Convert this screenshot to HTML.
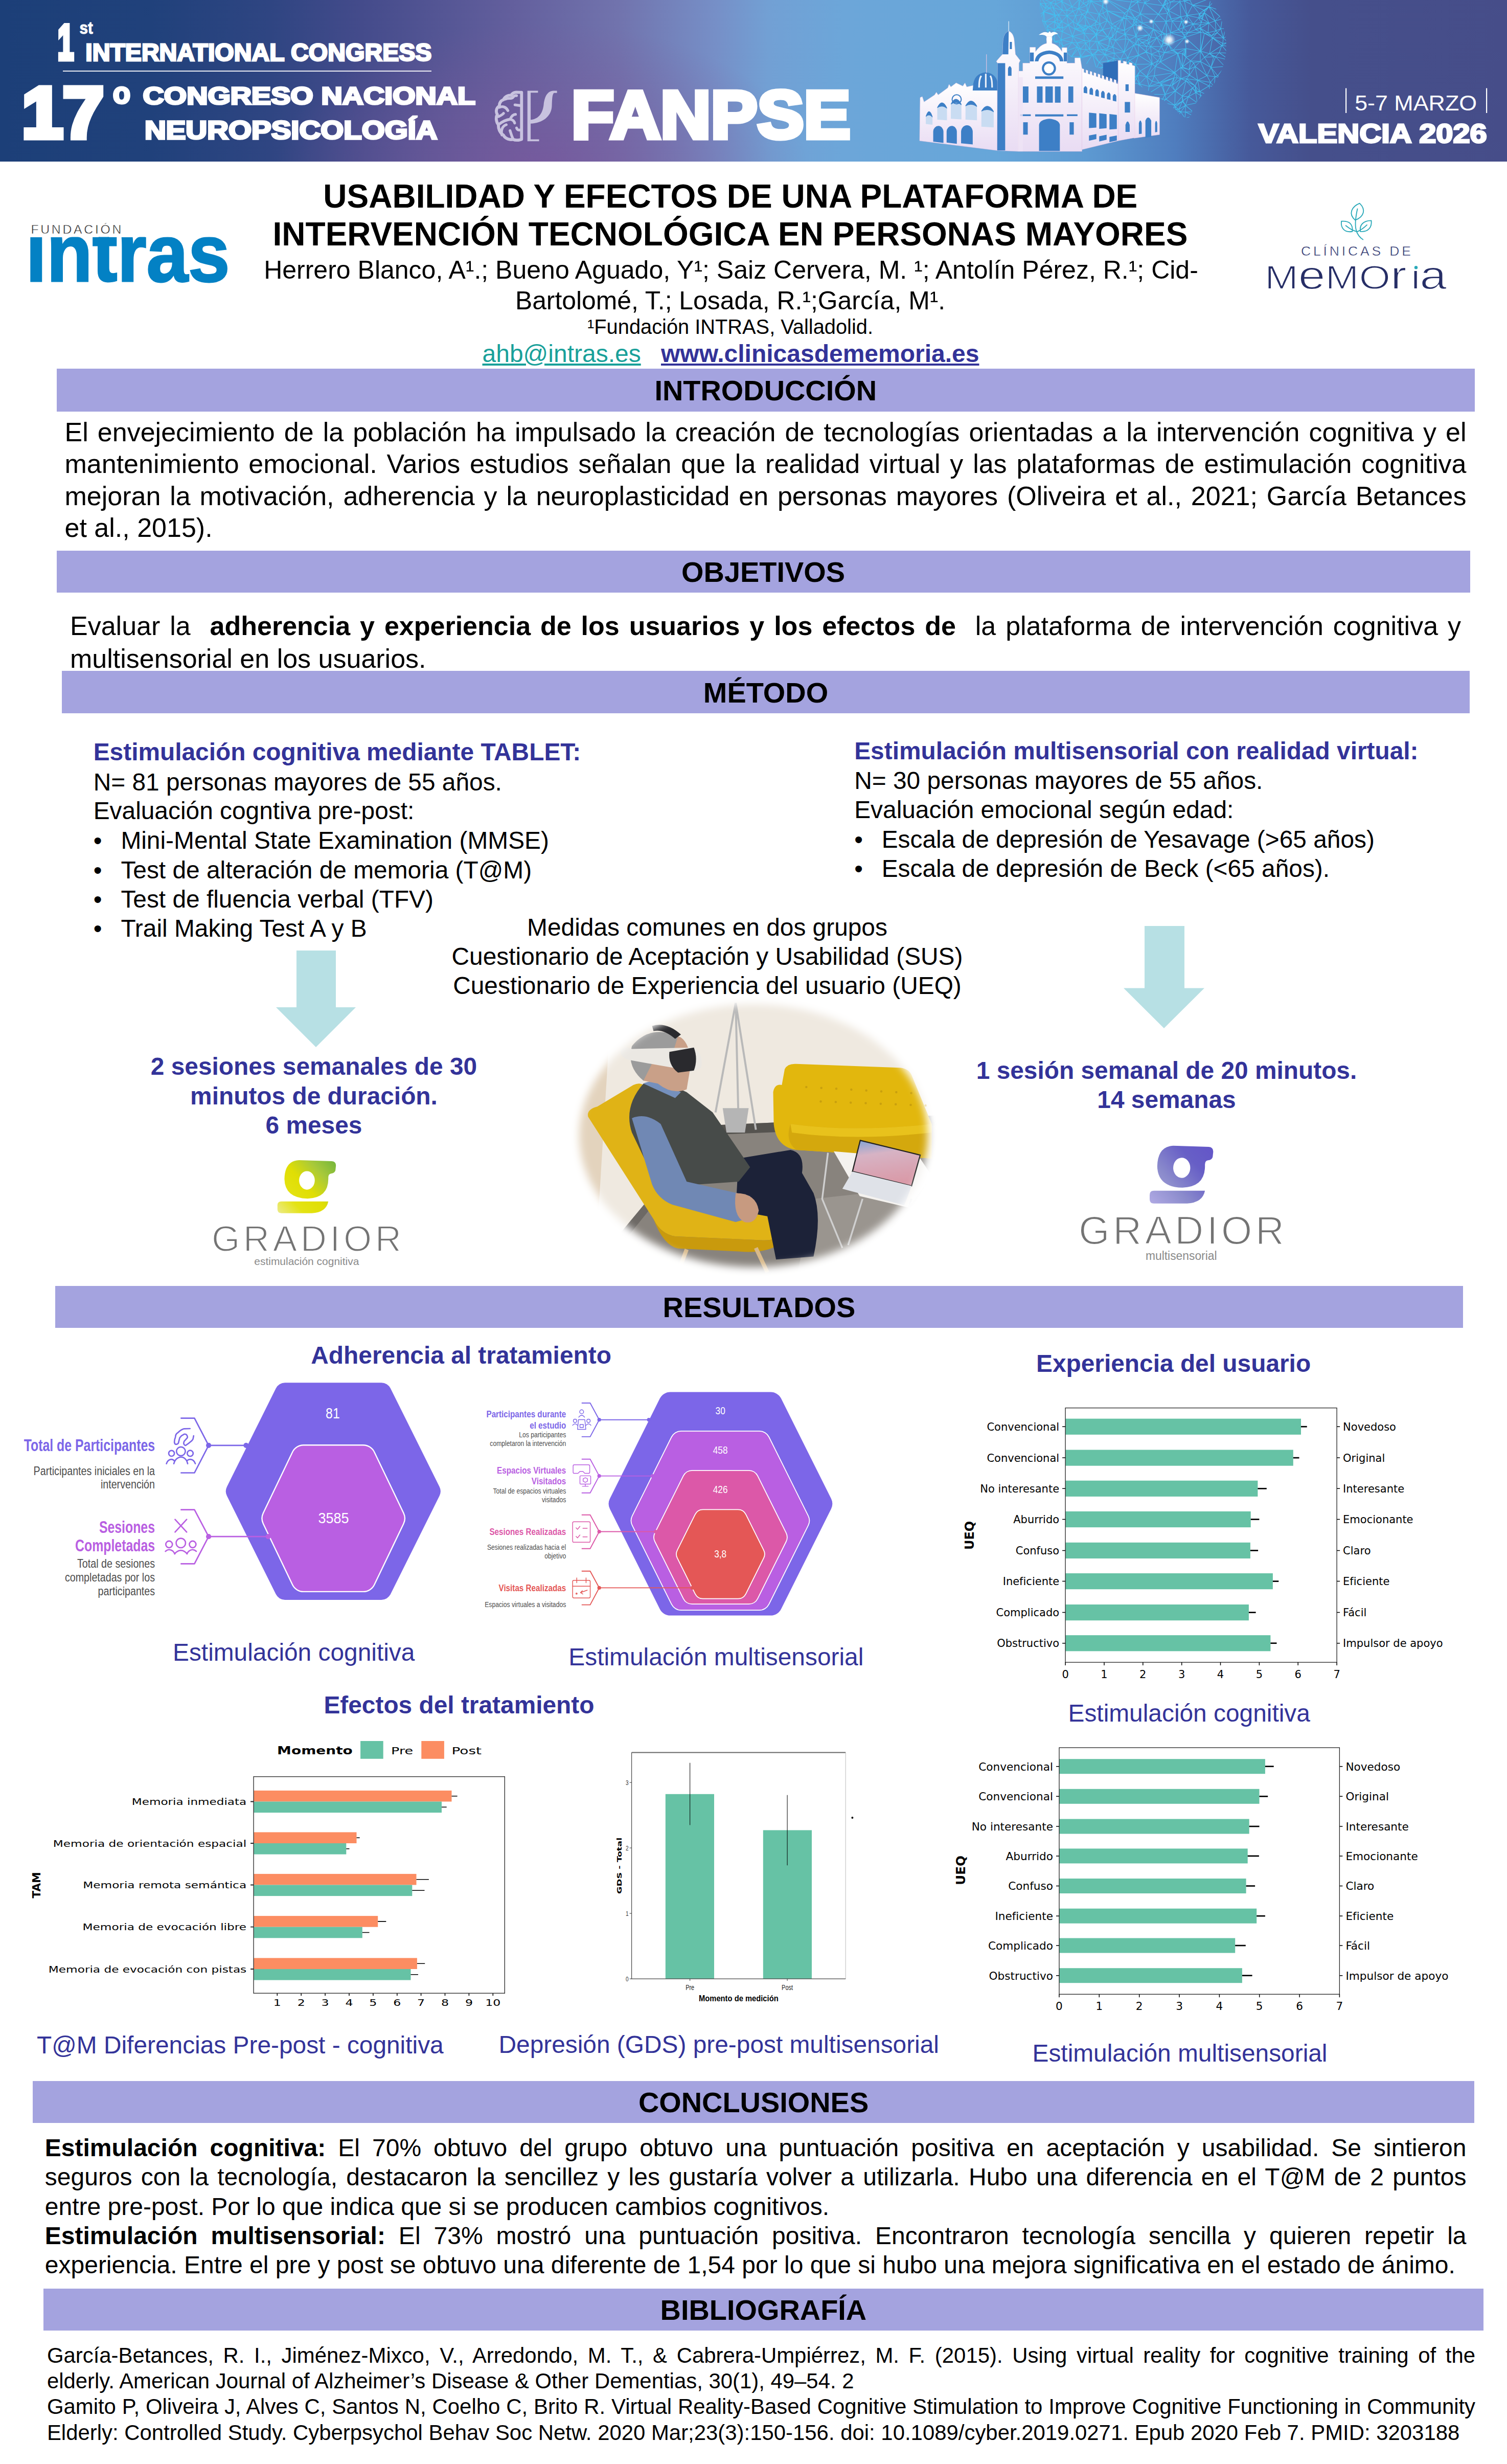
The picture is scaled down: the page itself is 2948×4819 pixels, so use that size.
<!DOCTYPE html>
<html lang="es"><head><meta charset="utf-8"><title>Usabilidad y efectos de una plataforma de intervención tecnológica en personas mayores</title>
<style>
html,body{margin:0;padding:0;background:#fff;}
body{width:2948px;height:4819px;position:relative;overflow:hidden;font-family:"Liberation Sans",sans-serif;}
.t{position:absolute;margin:0;padding:0;}
.r{position:absolute;}
svg{position:absolute;overflow:visible;}
svg text{font-family:"DejaVu Sans",sans-serif;}
a{color:inherit;}
</style></head><body>
<svg id="banner" width="2948" height="316" viewBox="0 0 2948 316" style="left:0;top:0;overflow:hidden">
<defs>
<linearGradient id="bg" x1="0" x2="1" y1="0" y2="0">
<stop offset="0" stop-color="#1c3f78"/><stop offset="0.10" stop-color="#20417b"/><stop offset="0.18" stop-color="#2f4582"/><stop offset="0.24" stop-color="#444b8b"/>
<stop offset="0.34" stop-color="#635f9d"/><stop offset="0.41" stop-color="#7173ad"/><stop offset="0.475" stop-color="#768fc7"/>
<stop offset="0.51" stop-color="#72a0d4"/><stop offset="0.56" stop-color="#6ca6d9"/><stop offset="0.66" stop-color="#66a6d9"/>
<stop offset="0.72" stop-color="#5d9ad2"/><stop offset="0.78" stop-color="#4f7dbe"/><stop offset="0.83" stop-color="#46599a"/>
<stop offset="0.87" stop-color="#454f8b"/><stop offset="1" stop-color="#464d89"/></linearGradient>
<radialGradient id="glow" cx="1060" cy="330" r="520" gradientUnits="userSpaceOnUse" gradientTransform="translate(0 330) scale(1 0.55) translate(0 -330)">
<stop offset="0" stop-color="#7a569c" stop-opacity="0.75"/><stop offset="0.5" stop-color="#7a5a9c" stop-opacity="0.4"/><stop offset="1" stop-color="#7a5a9c" stop-opacity="0"/></radialGradient>
<radialGradient id="star"><stop offset="0" stop-color="#fff" stop-opacity="1"/><stop offset="0.35" stop-color="#fff" stop-opacity="0.8"/><stop offset="1" stop-color="#bfe6ff" stop-opacity="0"/></radialGradient>
<linearGradient id="wall" x1="0" x2="0" y1="0" y2="1"><stop offset="0" stop-color="#ffffff"/><stop offset="1" stop-color="#e9dcf3"/></linearGradient>
<clipPath id="meshclip"><path d="M2035 0 C2030 40 2050 70 2075 95 C2095 120 2150 130 2190 150 C2230 165 2270 190 2300 215 C2310 228 2325 236 2330 225 C2335 205 2345 190 2370 170 C2395 140 2405 100 2395 60 C2390 30 2375 10 2365 0 Z"/></clipPath>
</defs>
<rect width="2948" height="316" fill="url(#bg)"/>
<rect width="2948" height="316" fill="url(#glow)"/>
<g clip-path="url(#meshclip)"><path d="M2150 28L2152 47M2150 28L2128 23M2150 28L2134 2M2150 28L2157 13M2150 28L2145 42M2150 28L2166 40M2150 28L2158 26M2280 8L2284 7M2280 8L2277 10M2280 8L2286 21M2280 8L2276 13M2280 8L2281 -4M2234 83L2226 76M2234 83L2243 91M2234 83L2247 85M2234 83L2227 88M2234 83L2245 79M2043 119L2052 105M2043 119L2062 133M2043 119L2040 111M2043 119L2059 117M2043 119L2038 126M2043 119L2046 141M2035 101L2029 108M2035 101L2052 105M2035 101L2027 107M2035 101L2044 90M2035 101L2040 111M2035 101L2032 95M2048 13L2045 7M2048 13L2054 16M2048 13L2056 5M2048 13L2045 16M2190 201L2194 212M2190 201L2184 197M2190 201L2190 199M2190 201L2182 206M2190 201L2208 204M2070 47L2068 38M2070 47L2077 42M2070 47L2069 53M2070 47L2073 48M2070 47L2063 42M2271 232L2270 220M2271 232L2253 221M2271 232L2244 231M2271 232L2272 223M2271 232L2286 232M2271 232L2276 222M2271 232L2276 241M2251 91L2252 106M2251 91L2243 91M2251 91L2263 74M2251 91L2247 85M2251 91L2272 91M2251 91L2266 100M2251 91L2242 101M2411 2L2412 20M2411 2L2397 -4M2411 2L2416 16M2411 2L2398 17M2363 64L2370 70M2363 64L2365 45M2363 64L2356 65M2363 64L2379 60M2363 64L2348 55M2078 20L2087 20M2078 20L2071 29M2078 20L2087 31M2078 20L2065 8M2078 20L2077 3M2078 20L2060 15M2143 198L2153 194M2143 198L2146 204M2143 198L2139 178M2143 198L2124 188M2143 198L2119 220M2092 138L2061 152M2092 138L2062 133M2092 138L2100 119M2092 138L2104 138M2092 138L2077 124M2092 138L2085 167M2092 138L2100 145M2276 85L2286 87M2276 85L2275 82M2276 85L2272 91M2239 6L2266 28M2239 6L2231 27M2239 6L2237 -3M2239 6L2247 -7M2239 6L2260 -7M2239 6L2275 11M2239 6L2225 4M2044 43L2049 51M2044 43L2064 31M2044 43L2040 41M2044 43L2042 23M2044 43L2044 59M2044 43L2063 42M2292 99L2295 98M2292 99L2286 87M2292 99L2304 104M2292 99L2278 103M2146 139L2174 161M2146 139L2168 134M2146 139L2160 130M2146 139L2122 143M2146 139L2145 134M2146 139L2126 154M2146 139L2133 173M2146 139L2159 170M2201 66L2202 76M2201 66L2200 59M2201 66L2200 67M2201 66L2209 78M2201 66L2216 50M2201 66L2222 71M2338 168L2347 179M2338 168L2320 158M2338 168L2321 154M2338 168L2339 178M2338 168L2341 178M2338 168L2343 157M2338 168L2333 172M2118 136L2113 114M2118 136L2111 122M2118 136L2116 140M2118 136L2137 107M2118 136L2122 143M2118 136L2145 134M2118 136L2110 139M2230 213L2240 215M2230 213L2233 189M2230 213L2242 190M2230 213L2222 203M2230 213L2228 226M2230 213L2225 218M2312 63L2324 64M2312 63L2315 54M2312 63L2317 68M2312 63L2290 64M2312 63L2305 58M2312 63L2318 73M2412 20L2414 28M2412 20L2407 22M2412 20L2416 16M2412 20L2398 17M2187 183L2174 161M2187 183L2184 197M2187 183L2164 185M2187 183L2195 175M2187 183L2195 187M2081 115L2089 111M2081 115L2069 103M2081 115L2083 104M2081 115L2100 119M2081 115L2076 124M2081 115L2077 124M2081 115L2064 115M2036 160L2044 169M2036 160L2049 161M2036 160L2033 171M2036 160L2029 148M2036 160L2025 154M2036 160L2046 141M2326 136L2310 132M2326 136L2329 119M2326 136L2313 131M2326 136L2327 147M2326 136L2338 130M2326 136L2335 123M2370 70L2381 64M2370 70L2356 65M2370 70L2379 60M2370 70L2372 74M2298 142L2310 132M2298 142L2270 121M2298 142L2303 152M2298 142L2310 154M2298 142L2304 104M2298 142L2268 162M2298 142L2258 148M2298 142L2260 130M2298 142L2297 152M2252 106L2265 119M2252 106L2242 102M2252 106L2254 125M2252 106L2266 100M2252 106L2270 111M2252 106L2242 101M2356 231L2360 243M2356 231L2373 237M2356 231L2348 237M2356 231L2356 223M2356 231L2363 244M2356 231L2348 217M2210 159L2212 164M2210 159L2221 151M2210 159L2203 131M2210 159L2219 162M2210 159L2188 139M2210 159L2190 158M2210 159L2223 154M2210 159L2195 175M2044 169L2049 161M2044 169L2048 179M2044 169L2033 171M2279 243L2231 240M2279 243L2295 241M2279 243L2313 244M2279 243L2178 243M2279 243L2276 241M2279 243L2286 240M2349 63L2348 56M2349 63L2324 64M2349 63L2348 100M2349 63L2356 65M2349 63L2339 58M2349 63L2318 73M2174 161L2168 134M2174 161L2188 139M2174 161L2190 158M2174 161L2164 185M2174 161L2195 175M2174 161L2159 170M2029 108L2027 107M2029 108L2021 115M2029 108L2040 111M2029 108L2038 126M2087 20L2087 31M2087 20L2097 13M2087 20L2077 3M2087 20L2099 22M2044 186L2036 189M2044 186L2048 179M2044 186L2033 171M2044 186L2043 189M2072 53L2079 55M2072 53L2071 54M2072 53L2069 53M2072 53L2073 48M2176 212L2164 215M2176 212L2177 226M2176 212L2169 224M2176 212L2182 215M2176 212L2182 206M2176 212L2165 198M2052 105L2056 92M2052 105L2044 90M2052 105L2040 111M2052 105L2059 117M2052 105L2057 103M2240 215L2231 228M2240 215L2242 190M2240 215L2241 226M2240 215L2248 216M2240 215L2228 226M2348 210L2334 219M2348 210L2342 201M2348 210L2350 208M2348 210L2348 217M2131 96L2124 84M2131 96L2124 97M2131 96L2137 107M2131 96L2144 81M2131 96L2132 80M2131 96L2148 98M2164 215L2157 202M2164 215L2146 204M2164 215L2163 200M2164 215L2169 224M2164 215L2143 233M2164 215L2165 198M2403 28L2414 28M2403 28L2401 24M2403 28L2407 22M2403 28L2406 43M2403 28L2391 37M2403 28L2400 25M2403 28L2396 26M2090 49L2099 42M2090 49L2098 71M2090 49L2079 55M2090 49L2087 31M2090 49L2077 42M2090 49L2078 62M2090 49L2103 57M2113 114L2111 122M2113 114L2137 107M2113 114L2100 119M2113 114L2114 111M2256 57L2231 51M2256 57L2263 74M2256 57L2251 73M2256 57L2271 68M2256 57L2256 42M2256 57L2248 68M2256 57L2273 63M2256 57L2235 45M2022 97L2020 87M2022 97L2027 107M2022 97L2021 115M2022 97L2032 95M2168 134L2160 130M2168 134L2178 130M2168 134L2168 119M2168 134L2188 139M2401 166L2412 158M2401 166L2408 156M2401 166L2391 172M2401 166L2397 174M2401 166L2404 154M2401 166L2404 170M2401 166L2387 152M2226 147L2243 150M2226 147L2221 151M2226 147L2229 164M2226 147L2230 139M2226 147L2223 154M2290 4L2309 -5M2290 4L2284 7M2290 4L2308 3M2290 4L2286 21M2290 4L2281 -4M2380 189L2370 193M2380 189L2384 189M2380 189L2382 196M2380 189L2375 169M2380 189L2391 172M2380 189L2374 197M2380 189L2369 189M2370 193L2361 196M2370 193L2374 197M2370 193L2369 189M2177 92L2182 79M2177 92L2169 90M2177 92L2164 99M2177 92L2171 76M2177 92L2180 104M2177 92L2199 102M2061 152L2054 158M2061 152L2062 133M2061 152L2082 173M2061 152L2085 167M2061 152L2056 149M2061 152L2058 153M2045 7L2056 5M2045 7L2037 -4M2045 7L2034 6M2045 7L2045 16M2104 31L2108 48M2104 31L2099 42M2104 31L2087 31M2104 31L2099 22M2104 31L2117 28M2104 31L2110 17M2156 3L2162 -3M2156 3L2159 -5M2156 3L2134 2M2156 3L2157 13M2156 3L2143 -4M2020 29L2020 87M2020 29L2022 57M2020 29L2021 181M2020 29L2034 6M2020 29L2035 36M2020 29L2034 28M2020 29L2021 81M2020 29L2031 1M2020 29L2028 55M2061 83L2056 92M2061 83L2073 82M2061 83L2071 100M2061 83L2046 79M2061 83L2063 81M2030 213L2038 203M2030 213L2022 220M2030 213L2039 217M2030 213L2023 205M2266 28L2231 27M2266 28L2284 26M2266 28L2281 42M2266 28L2276 13M2266 28L2275 11M2266 28L2256 42M2121 79L2124 84M2121 79L2121 65M2121 79L2098 71M2121 79L2132 80M2121 79L2107 84M2166 21L2162 -3M2166 21L2196 37M2166 21L2200 26M2166 21L2157 13M2166 21L2175 47M2166 21L2166 40M2166 21L2197 35M2166 21L2158 26M2360 243L2345 241M2360 243L2348 237M2360 243L2313 244M2360 243L2363 244M2206 113L2201 126M2206 113L2210 118M2206 113L2218 88M2206 113L2227 108M2206 113L2192 116M2206 113L2199 102M2054 16L2056 5M2054 16L2042 23M2054 16L2064 29M2054 16L2045 16M2054 16L2060 15M2157 58L2152 47M2157 58L2156 59M2157 58L2147 60M2157 58L2175 54M2157 58L2166 40M2157 58L2167 72M2352 31L2356 25M2352 31L2350 31M2352 31L2352 37M2352 31L2348 33M2029 233L2046 241M2029 233L2049 229M2029 233L2022 220M2029 233L2039 217M2231 27L2220 35M2231 27L2224 38M2231 27L2209 17M2231 27L2225 4M2231 27L2256 42M2231 27L2235 45M2237 -3L2229 -5M2237 -3L2247 -7M2237 -3L2225 4M2231 240L2231 228M2231 240L2244 231M2231 240L2178 243M2231 240L2217 234M2231 240L2276 241M2365 168L2347 179M2365 168L2368 161M2365 168L2375 169M2365 168L2343 157M2365 168L2369 189M2124 84L2124 97M2124 84L2132 80M2124 84L2114 96M2124 84L2107 84M2087 187L2091 191M2087 187L2078 201M2087 187L2082 173M2087 187L2099 182M2087 187L2087 190M2233 189L2242 190M2233 189L2245 184M2233 189L2225 167M2233 189L2218 203M2233 189L2222 203M2233 189L2229 164M2233 189L2210 199M2152 47L2142 49M2152 47L2147 60M2152 47L2145 42M2152 47L2166 40M2345 241L2335 238M2345 241L2348 237M2345 241L2313 244M2345 241L2342 237M2361 196L2374 197M2361 196L2349 187M2361 196L2369 189M2361 196L2359 197M2347 179L2339 181M2347 179L2341 178M2347 179L2349 187M2347 179L2343 157M2347 179L2369 189M2111 122L2100 119M2111 122L2104 138M2111 122L2110 139M2162 -3L2159 -5M2162 -3L2216 -9M2162 -3L2207 20M2162 -3L2214 -4M2162 -3L2200 26M2162 -3L2157 13M2162 -3L2213 4M2031 61L2027 75M2031 61L2022 57M2031 61L2044 59M2031 61L2036 65M2031 61L2025 73M2031 61L2028 55M2124 167L2109 184M2124 167L2125 173M2124 167L2099 182M2124 167L2126 154M2124 167L2105 149M2124 167L2133 173M2403 104L2409 91M2403 104L2385 103M2403 104L2390 89M2403 104L2406 118M2395 242L2411 229M2395 242L2383 244M2395 242L2397 239M2395 242L2386 231M2402 83L2409 91M2402 83L2408 69M2402 83L2393 74M2402 83L2392 85M2402 83L2390 89M2108 48L2099 42M2108 48L2122 32M2108 48L2114 53M2108 48L2119 53M2108 48L2103 57M2108 48L2117 28M2108 48L2124 50M2099 42L2087 31M2099 42L2103 57M2270 220L2253 221M2270 220L2254 218M2270 220L2272 223M2270 220L2276 222M2270 220L2252 215M2270 220L2274 200M2356 112L2348 100M2356 112L2348 120M2356 112L2374 111M2356 112L2349 100M2356 112L2366 105M2356 112L2369 132M2281 194L2274 194M2281 194L2279 185M2281 194L2298 206M2281 194L2299 178M2281 194L2274 200M2054 158L2049 161M2054 158L2082 173M2054 158L2048 179M2054 158L2056 149M2054 158L2058 153M2384 189L2382 196M2384 189L2391 172M2384 189L2402 206M2384 189L2395 177M2320 112L2329 119M2320 112L2313 131M2320 112L2348 100M2320 112L2313 105M2320 112L2320 95M2320 112L2318 109M2091 191L2078 201M2091 191L2113 219M2091 191L2103 221M2091 191L2109 184M2091 191L2099 182M2091 191L2081 215M2091 191L2087 190M2153 194L2157 202M2153 194L2146 204M2153 194L2139 178M2153 194L2163 200M2153 194L2164 185M2153 194L2154 181M2409 91L2420 140M2409 91L2411 56M2409 91L2408 69M2409 91L2390 89M2409 91L2416 137M2409 91L2406 118M2181 231L2188 224M2181 231L2211 230M2181 231L2169 234M2181 231L2177 226M2181 231L2178 243M2310 33L2308 3M2310 33L2293 41M2310 33L2286 21M2310 33L2315 41M2310 33L2291 37M2310 33L2311 42M2310 33L2322 30M2071 29L2064 31M2071 29L2087 31M2071 29L2064 29M2071 29L2068 38M2071 29L2077 42M2071 29L2060 15M2382 196L2374 197M2382 196L2402 206M2382 196L2379 215M2078 201L2082 173M2078 201L2062 203M2078 201L2081 215M2078 201L2087 190M2412 158L2408 156M2412 158L2416 202M2412 158L2420 140M2412 158L2404 170M2160 130L2150 122M2160 130L2145 134M2160 130L2168 119M2072 -6L2037 -4M2072 -6L2077 3M2072 -6L2088 -9M2072 -6L2078 -3M2072 -6L2065 -1M2408 156L2420 140M2408 156L2404 154M2408 156L2403 147M2408 156L2409 139M2231 228L2244 231M2231 228L2241 226M2231 228L2228 226M2231 228L2217 234M2194 212L2211 230M2194 212L2189 222M2194 212L2182 215M2194 212L2182 206M2194 212L2208 204M2350 44L2365 45M2350 44L2348 49M2350 44L2334 47M2350 44L2352 37M2350 44L2345 35M2121 65L2119 61M2121 65L2098 71M2121 65L2128 53M2121 65L2132 80M2121 65L2103 57M2121 65L2144 67M2116 140L2122 143M2116 140L2110 139M2116 140L2105 149M2124 97L2137 107M2124 97L2114 111M2124 97L2114 96M2072 222L2080 224M2072 222L2053 208M2072 222L2062 203M2072 222L2081 215M2072 222L2074 229M2072 222L2063 227M2162 107L2150 122M2162 107L2179 114M2162 107L2164 99M2162 107L2180 104M2162 107L2141 107M2162 107L2155 97M2162 107L2168 119M2162 107L2148 98M2253 221L2244 231M2253 221L2241 226M2253 221L2254 218M2253 221L2248 216M2188 224L2211 230M2188 224L2189 222M2188 224L2177 226M2188 224L2182 215M2221 126L2210 118M2221 126L2221 126M2221 126L2227 108M2221 126L2203 131M2229 -5L2216 -9M2229 -5L2247 -7M2229 -5L2224 0M2229 -5L2225 4M2196 37L2200 59M2196 37L2175 47M2196 37L2188 56M2196 37L2203 36M2196 37L2197 35M2196 37L2182 51M2022 194L2036 189M2022 194L2038 203M2022 194L2021 181M2022 194L2036 189M2022 194L2022 183M2022 194L2022 220M2022 194L2023 205M2089 111L2085 100M2089 111L2096 111M2089 111L2083 104M2089 111L2100 119M2310 132L2313 131M2310 132L2310 154M2310 132L2327 147M2310 132L2304 104M2150 122L2137 107M2150 122L2141 107M2150 122L2145 134M2150 122L2168 119M2242 190L2245 184M2242 190L2274 194M2242 190L2248 216M2242 190L2252 215M2242 190L2274 200M2062 133L2076 124M2062 133L2077 124M2062 133L2059 117M2062 133L2056 149M2062 133L2066 125M2062 133L2046 141M2119 61L2120 58M2119 61L2116 56M2119 61L2128 53M2119 61L2103 57M2329 119L2313 131M2329 119L2348 100M2329 119L2348 120M2329 119L2335 123M2245 184L2248 169M2245 184L2274 194M2245 184L2229 164M2245 184L2279 185M2245 184L2272 167M2385 103L2378 111M2385 103L2366 105M2385 103L2390 89M2385 103L2406 118M2265 119L2270 121M2265 119L2254 125M2265 119L2260 130M2265 119L2270 111M2225 167L2212 164M2225 167L2229 164M2225 167L2219 162M2225 167L2210 199M2201 126L2210 118M2201 126L2186 124M2201 126L2203 131M2201 126L2192 116M2201 126L2188 139M2211 230L2189 222M2211 230L2178 243M2211 230L2217 234M2211 230L2221 225M2211 230L2208 204M2300 214L2306 214M2300 214L2310 219M2300 214L2292 218M2300 214L2299 209M2397 56L2411 56M2397 56L2409 53M2397 56L2408 69M2397 56L2393 74M2397 56L2388 56M2397 56L2391 37M2397 56L2406 45M2244 231L2241 226M2244 231L2276 241M2356 25L2377 41M2356 25L2356 21M2356 25L2365 45M2356 25L2350 31M2356 25L2352 37M2356 25L2355 20M2356 25L2346 27M2356 25L2365 13M2069 103L2083 104M2069 103L2056 92M2069 103L2064 115M2069 103L2071 100M2069 103L2057 103M2049 51L2062 58M2049 51L2050 58M2049 51L2044 59M2049 51L2063 42M2049 161L2048 179M2049 161L2056 149M2049 161L2046 141M2334 219L2342 201M2334 219L2319 219M2334 219L2319 206M2334 219L2335 227M2334 219L2348 217M2082 173L2048 179M2082 173L2062 203M2082 173L2099 182M2082 173L2085 167M2284 26L2286 21M2284 26L2281 42M2284 26L2291 37M2284 26L2276 13M2373 237L2383 244M2373 237L2379 215M2373 237L2373 242M2373 237L2356 223M2373 237L2366 244M2373 237L2363 244M2373 237L2386 231M2108 233L2118 236M2108 233L2104 231M2108 233L2113 225M2108 233L2105 238M2179 114L2177 119M2179 114L2186 124M2179 114L2180 104M2179 114L2192 116M2179 114L2168 119M2416 202L2411 229M2416 202L2420 140M2416 202L2402 206M2416 202L2404 170M2416 202L2395 177M2085 100L2096 111M2085 100L2083 104M2085 100L2079 90M2085 100L2097 83M2085 100L2107 92M2085 100L2071 100M2226 76L2227 88M2226 76L2222 86M2226 76L2222 71M2226 76L2245 79M2226 76L2248 68M2098 71L2076 78M2098 71L2097 83M2098 71L2107 84M2098 71L2078 62M2098 71L2103 57M2309 -5L2308 3M2309 -5L2255 -10M2309 -5L2319 -2M2309 -5L2317 2M2309 -5L2281 -4M2309 -5L2372 -6M2242 102L2254 125M2242 102L2227 108M2242 102L2242 101M2027 75L2044 90M2027 75L2036 65M2027 75L2025 73M2027 75L2046 79M2027 75L2021 81M2027 75L2032 95M2270 121L2304 104M2270 121L2260 130M2270 121L2270 111M2270 121L2278 103M2046 241L2049 229M2046 241L2062 243M2335 238L2316 239M2335 238L2313 244M2335 238L2342 237M2335 238L2335 227M2335 238L2318 231M2062 58L2050 58M2062 58L2076 78M2062 58L2071 54M2062 58L2078 62M2062 58L2069 53M2062 58L2063 81M2062 58L2063 42M2036 189L2033 171M2036 189L2036 189M2036 189L2022 183M2036 189L2043 189M2128 23L2127 23M2128 23L2122 32M2128 23L2134 2M2128 23L2126 11M2128 23L2145 42M2189 222L2182 215M2348 56L2356 65M2348 56L2339 58M2348 56L2348 55M2080 224L2081 215M2080 224L2084 229M2080 224L2074 229M2248 169L2243 150M2248 169L2229 164M2248 169L2268 162M2248 169L2254 159M2248 169L2272 167M2056 5L2037 -4M2056 5L2065 8M2056 5L2065 -1M2056 5L2060 15M2295 98L2320 95M2295 98L2286 87M2295 98L2304 104M2295 98L2318 73M2049 229L2062 243M2049 229L2039 217M2049 229L2051 222M2049 229L2063 227M2274 194L2279 185M2274 194L2274 200M2053 208L2047 210M2053 208L2054 205M2053 208L2062 203M2053 208L2061 203M2053 208L2051 222M2053 208L2063 227M2053 208L2046 211M2047 210L2054 205M2047 210L2038 203M2047 210L2046 211M2202 76L2182 79M2202 76L2200 67M2202 76L2209 78M2202 76L2199 102M2241 226L2248 216M2127 23L2122 32M2127 23L2126 11M2127 23L2117 28M2127 23L2110 17M2231 51L2222 42M2231 51L2223 49M2231 51L2222 71M2231 51L2248 68M2231 51L2235 45M2064 31L2042 23M2064 31L2064 29M2064 31L2068 38M2064 31L2063 42M2040 41L2042 23M2040 41L2044 59M2040 41L2035 36M2040 41L2028 55M2145 68L2144 81M2145 68L2132 80M2145 68L2156 59M2145 68L2147 60M2145 68L2148 82M2145 68L2144 67M2145 68L2167 72M2324 64L2315 54M2324 64L2317 68M2324 64L2334 47M2324 64L2339 58M2324 64L2318 73M2220 35L2207 20M2220 35L2224 38M2220 35L2218 38M2220 35L2204 31M2220 35L2209 17M2159 -5L2216 -9M2159 -5L2143 -4M2159 -5L2145 -10M2120 -6L2112 -2M2120 -6L2130 2M2120 -6L2143 -4M2120 -6L2088 -9M2120 -6L2119 7M2120 -6L2145 -10M2120 -6L2113 -0M2313 131L2313 105M2313 131L2304 104M2096 111L2100 119M2096 111L2109 96M2096 111L2114 111M2096 111L2107 92M2394 17L2391 22M2394 17L2379 -2M2394 17L2397 -4M2394 17L2398 17M2394 17L2396 26M2348 100L2348 120M2348 100L2320 95M2348 100L2349 100M2348 100L2356 65M2348 100L2318 73M2218 203L2222 203M2218 203L2210 199M2218 203L2225 218M2218 203L2208 204M2177 119L2186 124M2177 119L2178 130M2177 119L2168 119M2295 241L2316 239M2295 241L2287 226M2295 241L2286 232M2295 241L2313 244M2295 241L2310 219M2295 241L2292 218M2295 241L2318 231M2295 241L2286 240M2157 202L2146 204M2157 202L2163 200M2303 152L2310 154M2303 152L2293 167M2303 152L2297 152M2182 79L2176 73M2182 79L2200 67M2182 79L2171 76M2182 79L2184 62M2182 79L2199 102M2042 23L2064 29M2042 23L2034 6M2042 23L2045 16M2042 23L2035 36M2042 23L2034 28M2048 179L2062 203M2048 179L2061 203M2048 179L2033 171M2048 179L2043 189M2122 32L2133 52M2122 32L2145 42M2122 32L2117 28M2122 32L2124 50M2054 205L2038 203M2054 205L2061 203M2054 205L2043 189M2368 161L2377 150M2368 161L2375 169M2368 161L2343 157M2368 161L2361 148M2133 52L2142 49M2133 52L2128 53M2133 52L2147 60M2133 52L2145 42M2133 52L2144 67M2133 52L2124 50M2137 107L2141 107M2137 107L2114 111M2137 107L2145 134M2137 107L2148 98M2083 104L2071 100M2125 235L2118 236M2125 235L2134 229M2125 235L2138 233M2125 235L2150 240M2125 235L2119 220M2409 130L2396 130M2409 130L2409 139M2409 130L2416 137M2409 130L2406 118M2118 236L2113 225M2118 236L2105 238M2118 236L2150 240M2118 236L2119 220M2144 81L2132 80M2144 81L2148 82M2144 81L2148 98M2020 87L2021 115M2020 87L2021 181M2020 87L2021 81M2020 87L2032 95M2210 118L2227 108M2210 118L2203 131M2100 119L2104 138M2100 119L2077 124M2100 119L2114 111M2022 57L2025 73M2022 57L2021 81M2022 57L2028 55M2056 92L2044 90M2056 92L2071 100M2056 92L2057 103M2056 92L2046 79M2037 -4L2088 -9M2037 -4L2034 6M2037 -4L2031 1M2037 -4L2065 -1M2142 49L2147 60M2142 49L2145 42M2254 125L2243 150M2254 125L2221 126M2254 125L2227 108M2254 125L2230 139M2254 125L2260 130M2320 158L2310 154M2320 158L2321 154M2320 158L2313 188M2320 158L2333 172M2320 158L2299 178M2306 214L2319 206M2306 214L2310 219M2306 214L2313 198M2306 214L2299 209M2176 73L2171 76M2176 73L2170 75M2176 73L2175 54M2176 73L2184 62M2176 73L2181 57M2176 73L2167 72M2414 28L2411 56M2414 28L2407 22M2414 28L2409 53M2414 28L2406 43M2414 28L2416 16M2414 28L2406 45M2310 154L2293 167M2310 154L2327 147M2310 154L2321 154M2310 154L2299 178M2038 203L2036 189M2038 203L2043 189M2038 203L2039 217M2038 203L2023 205M2038 203L2046 211M2377 150L2375 169M2377 150L2387 152M2377 150L2382 148M2377 150L2369 132M2377 150L2361 148M2314 197L2319 206M2314 197L2325 189M2314 197L2313 188M2314 197L2313 198M2076 124L2077 124M2076 124L2064 115M2076 124L2066 125M2222 203L2225 218M2342 201L2339 181M2342 201L2350 208M2342 201L2349 187M2342 201L2319 206M2342 201L2325 189M2342 201L2359 197M2254 218L2248 216M2254 218L2252 215M2293 167L2289 167M2293 167L2297 152M2293 167L2299 178M2112 -2L2111 -1M2112 -2L2088 -9M2112 -2L2113 -0M2073 82L2076 78M2073 82L2079 90M2073 82L2071 100M2073 82L2063 81M2062 203L2061 203M2062 203L2081 215M2243 150L2229 164M2243 150L2230 139M2243 150L2258 148M2243 150L2260 130M2243 150L2254 159M2270 164L2289 167M2270 164L2275 168M2270 164L2268 162M2270 164L2272 167M2270 164L2297 152M2216 -9L2247 -7M2216 -9L2214 -4M2216 -9L2255 -10M2216 -9L2224 0M2216 -9L2145 -10M2339 181L2339 178M2339 181L2341 178M2339 181L2349 187M2339 181L2325 189M2339 181L2333 172M2221 126L2227 108M2221 126L2221 151M2221 126L2203 131M2221 126L2230 139M2284 7L2286 21M2284 7L2281 -4M2315 54L2312 42M2315 54L2315 41M2315 54L2334 47M2315 54L2305 58M2315 54L2323 42M2050 58L2044 59M2050 58L2045 61M2050 58L2046 79M2050 58L2063 81M2312 42L2315 41M2312 42L2311 42M2312 42L2305 58M2316 239L2313 244M2316 239L2318 231M2218 88L2227 108M2218 88L2209 78M2218 88L2227 88M2218 88L2199 102M2218 88L2222 86M2212 164L2219 162M2212 164L2210 199M2212 164L2195 175M2212 164L2195 187M2327 147L2321 154M2327 147L2343 157M2327 147L2338 130M2277 10L2276 13M2277 10L2275 11M2277 10L2281 -4M2079 55L2071 54M2079 55L2077 42M2079 55L2078 62M2079 55L2073 48M2317 68L2318 73M2247 -7L2255 -10M2247 -7L2260 -7M2044 59L2045 61M2044 59L2036 65M2044 59L2028 55M2289 167L2279 185M2289 167L2275 168M2289 167L2297 152M2289 167L2299 178M2290 64L2282 67M2290 64L2293 41M2290 64L2286 87M2290 64L2281 42M2290 64L2305 58M2290 64L2318 73M2227 108L2227 88M2227 108L2242 101M2207 20L2200 26M2207 20L2204 31M2207 20L2213 4M2207 20L2209 17M2377 41L2365 45M2377 41L2388 56M2377 41L2391 37M2377 41L2386 32M2377 41L2379 60M2377 41L2365 13M2411 229L2402 206M2411 229L2403 233M2411 229L2397 239M2027 107L2021 115M2027 107L2032 95M2348 237L2342 237M2348 237L2335 227M2348 237L2348 217M2200 59L2200 67M2200 59L2188 56M2200 59L2184 62M2200 59L2216 50M2200 59L2203 36M2104 231L2103 221M2104 231L2113 225M2104 231L2105 238M2104 231L2094 229M2104 231L2097 240M2104 138L2110 139M2104 138L2100 145M2104 138L2105 149M2401 24L2407 22M2401 24L2402 22M2401 24L2398 17M2401 24L2400 25M2348 120L2338 130M2348 120L2369 132M2348 120L2335 123M2348 120L2361 148M2375 169L2391 172M2375 169L2387 152M2375 169L2369 189M2113 219L2103 221M2113 219L2113 225M2113 219L2109 184M2113 219L2124 188M2113 219L2119 220M2113 219L2116 221M2214 -4L2213 4M2214 -4L2224 0M2021 115L2021 181M2021 115L2026 131M2021 115L2025 154M2021 115L2038 126M2021 115L2025 130M2200 67L2184 62M2076 78L2079 90M2076 78L2097 83M2076 78L2078 62M2076 78L2063 81M2146 204L2134 229M2146 204L2143 233M2146 204L2119 220M2021 181L2033 171M2021 181L2022 183M2021 181L2022 220M2021 181L2025 154M2356 21L2355 20M2356 21L2365 13M2391 172L2397 174M2391 172L2387 152M2391 172L2395 177M2381 64L2393 74M2381 64L2388 56M2381 64L2379 60M2381 64L2372 74M2169 90L2164 99M2169 90L2171 76M2169 90L2170 75M2169 90L2148 82M2169 90L2163 96M2420 140L2411 56M2420 140L2416 16M2420 140L2409 139M2420 140L2416 137M2164 99L2180 104M2164 99L2155 97M2164 99L2163 96M2130 2L2134 2M2130 2L2143 -4M2130 2L2119 7M2130 2L2126 11M2061 203L2043 189M2134 229L2138 233M2134 229L2143 233M2134 229L2119 220M2120 58L2116 56M2120 58L2128 53M2120 58L2119 53M2120 58L2124 50M2224 38L2222 42M2224 38L2218 38M2224 38L2235 45M2169 234L2177 226M2169 234L2169 224M2169 234L2150 240M2169 234L2178 243M2374 197L2379 215M2374 197L2359 197M2272 223L2276 222M2396 130L2378 111M2396 130L2403 147M2396 130L2387 152M2396 130L2409 139M2396 130L2382 148M2396 130L2369 132M2396 130L2406 118M2308 3L2286 21M2308 3L2322 30M2308 3L2317 2M2313 105L2320 95M2313 105L2304 104M2313 105L2318 109M2313 105L2317 105M2321 154L2343 157M2134 2L2157 13M2134 2L2143 -4M2134 2L2126 11M2391 22L2379 -2M2391 22L2386 32M2391 22L2396 26M2391 22L2365 13M2209 78L2199 102M2209 78L2222 86M2209 78L2222 71M2139 178L2124 188M2139 178L2154 181M2139 178L2133 173M2139 178L2159 170M2411 56L2409 53M2411 56L2408 69M2411 56L2416 16M2282 67L2278 67M2282 67L2286 87M2282 67L2281 42M2282 67L2275 82M2282 67L2273 63M2243 91L2247 85M2243 91L2227 88M2243 91L2242 101M2087 31L2077 42M2087 31L2099 22M2103 221L2113 225M2103 221L2094 229M2103 221L2081 215M2219 46L2222 42M2219 46L2218 38M2219 46L2223 49M2219 46L2216 50M2383 244L2313 244M2383 244L2373 242M2383 244L2366 244M2383 244L2386 231M2200 26L2204 31M2200 26L2197 35M2097 13L2111 -1M2097 13L2077 3M2097 13L2088 -9M2097 13L2099 22M2097 13L2110 17M2157 13L2158 26M2116 56L2114 53M2116 56L2119 53M2116 56L2103 57M2248 216L2252 215M2320 95L2304 104M2320 95L2318 109M2320 95L2317 105M2320 95L2318 73M2186 124L2192 116M2186 124L2178 130M2186 124L2188 139M2171 76L2170 75M2045 61L2036 65M2045 61L2046 79M2407 22L2402 22M2407 22L2398 17M2221 151L2203 131M2221 151L2230 139M2221 151L2223 154M2365 45L2348 49M2365 45L2352 37M2365 45L2379 60M2365 45L2348 55M2128 53L2144 67M2128 53L2124 50M2180 104L2192 116M2180 104L2199 102M2402 206L2379 215M2402 206L2403 233M2402 206L2395 177M2402 206L2386 231M2369 -4L2379 -2M2369 -4L2327 0M2369 -4L2333 10M2369 -4L2372 -6M2369 -4L2365 13M2033 171L2022 183M2033 171L2025 154M2378 111L2374 111M2378 111L2366 105M2378 111L2369 132M2378 111L2406 118M2255 -10L2260 -7M2255 -10L2145 -10M2255 -10L2281 -4M2255 -10L2372 -6M2177 226L2169 224M2177 226L2182 215M2350 208L2379 215M2350 208L2356 223M2350 208L2348 217M2350 208L2359 197M2409 53L2406 45M2064 29L2060 15M2229 164L2219 162M2229 164L2223 154M2397 174L2404 170M2397 174L2395 177M2279 185L2275 168M2279 185L2272 167M2279 185L2299 178M2203 131L2188 139M2036 189L2043 189M2113 225L2119 220M2113 225L2116 221M2278 67L2271 68M2278 67L2275 82M2278 67L2273 63M2071 54L2078 62M2071 54L2069 53M2275 168L2272 167M2065 8L2077 3M2065 8L2065 -1M2065 8L2060 15M2175 47L2175 54M2175 47L2166 40M2175 47L2182 51M2260 -7L2275 11M2260 -7L2281 -4M2141 107L2148 98M2404 154L2403 147M2404 154L2387 152M2374 111L2366 105M2374 111L2369 132M2114 53L2119 53M2114 53L2103 57M2404 170L2395 177M2143 -4L2145 -10M2219 162L2223 154M2188 56L2184 62M2188 56L2181 57M2188 56L2182 51M2287 226L2286 232M2287 226L2276 222M2287 226L2292 218M2111 -1L2088 -9M2111 -1L2110 17M2111 -1L2113 -0M2155 97L2148 82M2155 97L2163 96M2155 97L2148 98M2293 41L2281 42M2293 41L2291 37M2293 41L2311 42M2293 41L2305 58M2339 178L2341 178M2339 178L2333 172M2222 42L2218 38M2222 42L2223 49M2222 42L2235 45M2408 69L2393 74M2348 49L2334 47M2348 49L2339 58M2348 49L2348 55M2109 184L2125 173M2109 184L2099 182M2109 184L2124 188M2138 233L2150 240M2138 233L2143 233M2218 38L2204 31M2218 38L2216 50M2218 38L2203 36M2109 96L2114 111M2109 96L2114 96M2109 96L2107 92M2286 232L2276 222M2286 232L2276 241M2286 232L2286 240M2079 90L2097 83M2079 90L2071 100M2105 238L2150 240M2105 238L2097 240M2077 3L2088 -9M2077 3L2078 -3M2077 3L2065 -1M2044 90L2046 79M2044 90L2032 95M2379 215L2356 223M2379 215L2386 231M2379 215L2359 197M2313 244L2178 243M2313 244L2366 244M2313 244L2363 244M2313 244L2062 243M2393 74L2388 56M2393 74L2392 85M2393 74L2372 74M2094 229L2081 215M2094 229L2097 240M2094 229L2084 229M2319 -2L2327 0M2319 -2L2323 -0M2319 -2L2317 2M2319 -2L2372 -6M2286 87L2275 82M2286 87L2272 91M2286 87L2278 103M2286 87L2318 73M2170 75L2148 82M2170 75L2167 72M2088 -9L2145 -10M2088 -9L2078 -3M2132 80L2144 67M2402 22L2398 17M2406 43L2391 37M2406 43L2406 45M2163 200L2164 185M2163 200L2165 198M2349 100L2356 65M2349 100L2366 105M2349 100L2372 74M2040 111L2038 126M2169 224L2150 240M2169 224L2143 233M2097 83L2107 84M2097 83L2107 92M2379 -2L2397 -4M2379 -2L2372 -6M2379 -2L2365 13M2184 197L2190 199M2184 197L2182 206M2184 197L2164 185M2184 197L2165 198M2184 197L2195 187M2327 0L2333 10M2327 0L2323 -0M2327 0L2317 2M2327 0L2372 -6M2034 6L2045 16M2034 6L2034 28M2034 6L2031 1M2388 56L2391 37M2388 56L2379 60M2319 219L2319 206M2319 219L2310 219M2319 219L2335 227M2319 219L2318 231M2156 59L2147 60M2156 59L2167 72M2403 147L2387 152M2403 147L2409 139M2125 173L2124 188M2125 173L2133 173M2147 60L2144 67M2387 152L2382 148M2397 -4L2398 17M2397 -4L2372 -6M2114 111L2114 96M2403 233L2397 239M2403 233L2386 231M2175 54L2166 40M2175 54L2181 57M2175 54L2182 51M2175 54L2167 72M2192 116L2199 102M2391 37L2386 32M2391 37L2396 26M2391 37L2406 45M2349 187L2369 189M2349 187L2359 197M2263 74L2247 85M2263 74L2251 73M2263 74L2271 68M2263 74L2275 82M2263 74L2272 91M2148 82L2163 96M2148 82L2148 98M2148 82L2167 72M2333 10L2355 20M2333 10L2322 30M2333 10L2346 27M2333 10L2317 2M2333 10L2365 13M2099 182L2085 167M2099 182L2105 149M2119 7L2126 11M2119 7L2110 17M2119 7L2113 -0M2034 131L2026 131M2034 131L2036 133M2034 131L2038 126M2150 240L2178 243M2150 240L2143 233M2150 240L2097 240M2373 242L2366 244M2126 11L2110 17M2059 117L2064 115M2059 117L2057 103M2059 117L2066 125M2304 104L2278 103M2114 96L2107 84M2114 96L2107 92M2268 162L2258 148M2268 162L2254 159M2268 162L2272 167M2268 162L2297 152M2319 206L2310 219M2319 206L2325 189M2319 206L2313 198M2286 21L2291 37M2286 21L2276 13M2356 65L2348 55M2356 65L2372 74M2247 85L2251 73M2247 85L2245 79M2315 41L2311 42M2315 41L2322 30M2315 41L2323 42M2119 53L2124 50M2081 215L2084 229M2251 73L2245 79M2251 73L2248 68M2178 243L2097 240M2178 243L2217 234M2178 243L2062 243M2223 49L2216 50M2223 49L2222 71M2343 157L2338 130M2343 157L2361 148M2210 199L2190 199M2210 199L2208 204M2210 199L2195 187M2356 223L2348 217M2036 65L2046 79M2068 38L2077 42M2068 38L2063 42M2409 139L2416 137M2392 85L2390 89M2392 85L2372 74M2366 105L2390 89M2366 105L2372 74M2124 188L2119 220M2124 188L2133 173M2398 17L2400 25M2398 17L2396 26M2258 148L2260 130M2258 148L2254 159M2107 84L2107 92M2077 42L2073 48M2122 143L2145 134M2122 143L2126 154M2122 143L2105 149M2281 42L2291 37M2281 42L2256 42M2281 42L2273 63M2025 73L2021 81M2338 130L2335 123M2338 130L2361 148M2178 130L2168 119M2178 130L2188 139M2276 13L2275 11M2085 167L2100 145M2085 167L2105 149M2184 62L2181 57M2366 244L2363 244M2166 40L2158 26M2311 42L2305 58M2022 220L2039 217M2022 220L2023 205M2190 199L2208 204M2190 199L2195 187M2182 215L2182 206M2204 31L2203 36M2204 31L2197 35M2026 131L2036 133M2026 131L2029 148M2026 131L2038 126M2026 131L2025 130M2276 222L2292 218M2276 222L2274 200M2056 149L2058 153M2056 149L2046 141M2228 226L2217 234M2228 226L2221 225M2228 226L2225 218M2064 115L2057 103M2064 115L2066 125M2342 237L2335 227M2099 22L2110 17M2397 239L2386 231M2213 4L2209 17M2213 4L2224 0M2213 4L2225 4M2390 89L2372 74M2382 148L2369 132M2350 31L2346 27M2350 31L2348 33M2334 47L2322 30M2334 47L2339 58M2334 47L2345 35M2334 47L2323 42M2182 206L2165 198M2352 37L2345 35M2352 37L2348 33M2227 88L2222 86M2227 88L2242 101M2069 53L2073 48M2069 53L2063 42M2310 219L2292 218M2310 219L2318 231M2036 133L2029 148M2036 133L2038 126M2036 133L2046 141M2323 -0L2317 2M2355 20L2346 27M2355 20L2365 13M2271 68L2275 82M2271 68L2273 63M2188 139L2190 158M2190 158L2195 175M2029 148L2025 154M2029 148L2025 130M2029 148L2046 141M2216 50L2203 36M2216 50L2222 71M2325 189L2313 188M2325 189L2333 172M2203 36L2197 35M2209 17L2225 4M2224 0L2225 4M2275 11L2281 -4M2313 188L2313 198M2313 188L2333 172M2313 188L2298 206M2313 188L2299 178M2222 86L2222 71M2400 25L2396 26M2313 198L2298 206M2313 198L2299 209M2097 240L2084 229M2097 240L2062 243M2217 234L2221 225M2386 32L2396 26M2386 32L2365 13M2335 227L2318 231M2335 227L2348 217M2046 79L2063 81M2322 30L2346 27M2322 30L2317 2M2322 30L2345 35M2322 30L2323 42M2346 27L2345 35M2346 27L2348 33M2221 225L2225 218M2221 225L2208 204M2222 71L2248 68M2035 36L2034 28M2035 36L2028 55M2084 229L2062 243M2084 229L2074 229M2292 218L2298 206M2292 218L2299 209M2292 218L2274 200M2275 82L2272 91M2369 132L2361 148M2252 215L2274 200M2062 243L2074 229M2062 243L2063 227M2272 91L2266 100M2272 91L2278 103M2339 58L2348 55M2416 137L2406 118M2164 185L2154 181M2164 185L2165 198M2164 185L2159 170M2276 241L2286 240M2266 100L2270 111M2266 100L2278 103M2225 218L2208 204M2021 81L2032 95M2110 139L2105 149M2256 42L2273 63M2256 42L2235 45M2270 111L2278 103M2074 229L2063 227M2117 28L2110 17M2181 57L2182 51M2025 154L2025 130M2245 79L2248 68M2119 220L2116 221M2038 126L2046 141M2100 145L2105 149M2345 35L2348 33M2039 217L2051 222M2039 217L2046 211M2318 109L2317 105M2110 17L2113 -0M2154 181L2159 170M2298 206L2299 209M2298 206L2299 178M2298 206L2274 200M2126 154L2105 149M2126 154L2133 173M2195 175L2195 187M2051 222L2063 227M2051 222L2046 211M2133 173L2159 170" stroke="#3fc6f4" stroke-width="1.05" fill="none" opacity="0.92"/></g>
<circle cx="2230" cy="55" r="7" fill="url(#star)"/>
<circle cx="2252" cy="42" r="5" fill="url(#star)"/>
<circle cx="2287" cy="78" r="13" fill="url(#star)"/>
<circle cx="2322" cy="81" r="5" fill="url(#star)"/>
<circle cx="2320" cy="43" r="5" fill="url(#star)"/>
<circle cx="2163" cy="3" r="7" fill="url(#star)"/>
<g transform="translate(1780 20) scale(0.34507)" stroke="#f0c9e4" stroke-width="1.5" stroke-linejoin="round">
<path d="M1270 470 L1415 495 L1415 705 L1270 725 Z" fill="url(#wall)"/>
<path d="M1335 625 Q1350 590 1368 625 L1368 718 L1335 722 Z" fill="#3d7fc6" stroke="none"/>
<path d="M1298 640 Q1306 610 1314 640 L1314 700 L1298 702 Z M1390 640 Q1396 615 1402 640 L1402 690 L1390 692 Z" fill="#3d7fc6" stroke="none"/>
<path d="M1095 300 L1185 285 L1185 410 L1095 380 Z" fill="#2f6db8" stroke="none"/>
<path d="M1180 285 L1195 285 L1195 300 L1210 300 L1210 288 L1228 292 L1228 305 L1243 308 L1243 296 L1260 300 L1260 312 L1275 316 L1275 722 L1180 740 Z" fill="url(#wall)"/>
<rect x="1222" y="420" width="18" height="38" fill="#3d7fc6" stroke="none"/><path d="M1218 520 h30 v60 h-30z" fill="#3d7fc6" stroke="none"/><path d="M1222 650 Q1234 610 1246 650 L1246 690 L1222 690 Z" fill="#3d7fc6" stroke="none"/>
<path d="M975 330 L975 330 L986 334 L986 352 L998 356 L998 338 L998 338 L1009 342 L1009 360 L1021 364 L1021 346 L1021 346 L1032 349 L1032 367 L1043 371 L1043 353 L1043 353 L1055 357 L1055 375 L1066 379 L1066 361 L1066 361 L1078 365 L1078 383 L1089 387 L1089 369 L1089 369 L1100 373 L1100 391 L1112 395 L1112 377 L1112 377 L1123 381 L1123 399 L1134 402 L1134 384 L1134 384 L1146 388 L1146 406 L1157 410 L1157 392 L1157 392 L1169 396 L1169 414 L1180 418 L1180 400  L1180 400 L1180 740 L975 790 Z" fill="url(#wall)"/>
<path d="M985 442 Q995 418 1005 442 L1005 472 L985 468 Z" fill="#3d7fc6" stroke="none"/>
<path d="M1018 451 Q1028 427 1038 451 L1038 481 L1018 477 Z" fill="#3d7fc6" stroke="none"/>
<path d="M1051 460 Q1061 436 1071 460 L1071 490 L1051 486 Z" fill="#3d7fc6" stroke="none"/>
<path d="M1084 469 Q1094 445 1104 469 L1104 499 L1084 495 Z" fill="#3d7fc6" stroke="none"/>
<path d="M1117 478 Q1127 454 1137 478 L1137 508 L1117 504 Z" fill="#3d7fc6" stroke="none"/>
<path d="M1150 487 Q1160 463 1170 487 L1170 517 L1150 513 Z" fill="#3d7fc6" stroke="none"/>
<path d="M1015 580 L1057 585 L1057 665 L1015 668 Z" fill="#3d7fc6" stroke="none"/>
<path d="M1015 710 L1057 702 L1057 730 L1015 740 Z" fill="#3d7fc6" stroke="none"/>
<path d="M1073 584 L1115 589 L1115 669 L1073 672 Z" fill="#3d7fc6" stroke="none"/>
<path d="M1073 714 L1115 706 L1115 734 L1073 744 Z" fill="#3d7fc6" stroke="none"/>
<path d="M1131 588 L1173 593 L1173 673 L1131 676 Z" fill="#3d7fc6" stroke="none"/>
<path d="M1131 718 L1173 710 L1173 738 L1131 748 Z" fill="#3d7fc6" stroke="none"/>
<path d="M58 495 L70 490 L80 520 L140 480 L150 465 L160 480 L215 440 L222 420 L232 435 L262 412 L300 430 L312 412 L322 435 L365 425 L495 440 L495 795 L55 740 Z" fill="url(#wall)"/>
<path d="M132 745 L132 688 A29.0 33.0 0 0 1 190 690 L190 752 Z" fill="#3d7fc6" stroke="none"/>
<path d="M208 750 L208 688 A29.0 33.0 0 0 1 266 690 L266 757 Z" fill="#3d7fc6" stroke="none"/>
<path d="M290 754 L290 688 A33.0 37.0 0 0 1 356 690 L356 761 Z" fill="#3d7fc6" stroke="none"/>
<path d="M90 645 L90 600 Q109.0 545 128 602 L128 649 Z" fill="#c9dcf2" stroke="none"/>
<path d="M90 604 L90 600 Q109.0 545 128 602 L128 608 Q109.0 585 90 604Z" fill="#3d7fc6" stroke="none"/>
<path d="M155 620 L155 550 Q182.5 495 210 552 L210 624 Z" fill="#c9dcf2" stroke="none"/>
<path d="M155 554 L155 550 Q182.5 495 210 552 L210 558 Q182.5 535 155 554Z" fill="#3d7fc6" stroke="none"/>
<path d="M232 615 L232 530 Q262.0 475 292 532 L292 619 Z" fill="#c9dcf2" stroke="none"/>
<path d="M232 534 L232 530 Q262.0 475 292 532 L292 538 Q262.0 515 232 534Z" fill="#3d7fc6" stroke="none"/>
<path d="M315 620 L315 540 Q347.5 485 380 542 L380 624 Z" fill="#c9dcf2" stroke="none"/>
<path d="M315 544 L315 540 Q347.5 485 380 542 L380 548 Q347.5 525 315 544Z" fill="#3d7fc6" stroke="none"/>
<path d="M405 660 L405 570 Q440.0 515 475 572 L475 664 Z" fill="#c9dcf2" stroke="none"/>
<path d="M405 574 L405 570 Q440.0 515 475 572 L475 578 Q440.0 555 405 574Z" fill="#3d7fc6" stroke="none"/>
<circle cx="265" cy="505" r="26" fill="none" stroke="#3d7fc6" stroke-width="6"/>
<path d="M356 455 L358 430 Q362 358 430 352 Q496 358 500 430 L500 455 Z" fill="#3d7fc6" stroke="none"/>
<path d="M392 438 Q392 385 405 372 M430 438 L430 360 M466 438 Q466 385 455 372" stroke="#fff" stroke-width="9" fill="none" opacity="0.9"/>
<path d="M434 355 L434 250" stroke="#f0c9e4" stroke-width="3"/>
<path d="M490 290 L498 280 L520 255 L525 250 L528 180 Q530 130 560 118 Q590 130 592 180 L598 250 L625 285 L618 300 L615 800 L495 795 L497 300 Z" fill="url(#wall)"/>
<path d="M497 300 L540 300 L540 795 L495 795 Z M528 180 Q530 130 560 118 L558 250 L525 250 Z" fill="#3d7fc6" stroke="none"/>
<path d="M560 118 L560 62" stroke="#fff" stroke-width="3"/>
<path d="M556 330 Q566 305 576 330 L576 372 L556 372 Z M566 180 h12 v40 h-12z" fill="#3d7fc6" stroke="none"/>
<path d="M615 345 L640 345 L640 300 L680 300 L680 210 L712 210 L712 235 Q740 195 775 188 L775 150 L805 150 L805 188 Q840 195 862 235 L862 212 L890 212 L890 300 L935 300 L935 270 L965 270 L975 330 L975 800 L615 800 Z" fill="url(#wall)"/>
<path d="M730 140 Q760 115 785 128 Q790 112 800 128 Q820 115 840 135 Q815 135 805 150 L775 150 Q765 135 730 140 Z" fill="#fff" stroke="none"/>
<circle cx="790" cy="165" r="16" fill="#fff" stroke="none"/>
<path d="M708 290 Q712 235 790 228 Q866 235 870 290 L850 290 Q845 252 790 248 Q735 252 728 290 Z" fill="#3d7fc6" stroke="none"/>
<circle cx="788" cy="330" r="34" fill="#fff" stroke="#3d7fc6" stroke-width="12"/>
<rect x="710" y="375" width="160" height="14" fill="#3d7fc6" stroke="none"/>
<rect x="680" y="240" width="22" height="50" fill="#3d7fc6" stroke="none"/><rect x="872" y="240" width="18" height="50" fill="#3d7fc6" stroke="none"/>
<rect x="640" y="432" width="32" height="92" fill="#3d7fc6" stroke="none"/>
<rect x="720" y="432" width="32" height="92" fill="#3d7fc6" stroke="none"/>
<rect x="768" y="432" width="42" height="92" fill="#3d7fc6" stroke="none"/>
<rect x="822" y="432" width="32" height="92" fill="#3d7fc6" stroke="none"/>
<rect x="898" y="432" width="28" height="92" fill="#3d7fc6" stroke="none"/>
<rect x="625" y="590" width="60" height="10" fill="#3d7fc6" stroke="none"/><rect x="710" y="590" width="160" height="12" fill="#3d7fc6" stroke="none"/><rect x="890" y="590" width="60" height="10" fill="#3d7fc6" stroke="none"/>
<path d="M732 798 L732 650 Q735 620 790 615 Q846 620 850 650 L850 798 Z" fill="#3d7fc6" stroke="none"/>
<rect x="642" y="635" width="26" height="70" fill="#3d7fc6" stroke="none"/><rect x="905" y="635" width="24" height="70" fill="#3d7fc6" stroke="none"/>
<rect x="612" y="380" width="28" height="420" fill="#efe3f5" stroke="none" opacity="0.8"/>
</g>
<g transform="translate(950 160) scale(0.10616)" fill="none" stroke="#c8c2df" stroke-linecap="round" stroke-linejoin="round">
<path d="M662 195 L560 192 C500 195 480 230 470 250 C420 240 350 270 330 330 C260 350 250 420 255 445 C190 480 185 560 215 600 C185 650 190 740 235 790 C230 870 270 950 330 985 C360 1050 450 1075 500 1060 C560 1085 620 1075 662 1060 Z" stroke-width="55"/>
<path d="M655 440 L540 425 M365 320 C420 290 470 320 500 290 C520 260 545 250 570 255 M255 470 C320 440 380 470 410 530 M240 640 C300 610 320 600 330 580 M250 780 C300 740 380 700 450 690 C470 650 500 600 550 600 M450 690 C510 700 530 740 535 760 M300 980 C280 900 300 820 380 790 M450 900 C470 960 480 1000 500 1040 M660 880 C600 900 580 880 570 850" stroke-width="50"/>
<path d="M770 165 L965 165 L965 200 L830 200 L830 700 C960 690 1050 600 1070 420 C1085 300 1120 180 1240 165 L1315 165 L1315 205 L1260 205 C1225 230 1225 330 1220 450 C1210 640 1050 760 830 770 L830 1060 L985 1060 L985 1095 L770 1095 Z" fill="#c8c2df" stroke="none"/>
</g>
<text x="113.0" y="115.5" style="font-family:&quot;Liberation Sans&quot;,sans-serif" font-size="95.9" font-weight="700" fill="#fff" textLength="31.1" lengthAdjust="spacingAndGlyphs" stroke="#fff" stroke-width="9" stroke-linejoin="miter">1</text>
<text x="155.5" y="65.5" style="font-family:&quot;Liberation Sans&quot;,sans-serif" font-size="34.1" font-weight="700" fill="#fff" textLength="26.4" lengthAdjust="spacingAndGlyphs" stroke="#fff" stroke-width="1" stroke-linejoin="miter">st</text>
<text x="167.3" y="118.5" style="font-family:&quot;Liberation Sans&quot;,sans-serif" font-size="47.2" font-weight="700" fill="#fff" textLength="677.1" lengthAdjust="spacingAndGlyphs" stroke="#fff" stroke-width="3" stroke-linejoin="miter">INTERNATIONAL CONGRESS</text>
<rect x="123" y="138" width="721" height="2" fill="#fff" opacity="0.9"/>
<text x="43.0" y="268.5" style="font-family:&quot;Liberation Sans&quot;,sans-serif" font-size="141.0" font-weight="700" fill="#fff" textLength="159.8" lengthAdjust="spacingAndGlyphs" stroke="#fff" stroke-width="11" stroke-linejoin="miter">17</text>
<text x="220.8" y="202.0" style="font-family:&quot;Liberation Sans&quot;,sans-serif" font-size="58.7" font-weight="700" fill="#fff" textLength="34.4" lengthAdjust="spacingAndGlyphs" stroke="#fff" stroke-width="4" stroke-linejoin="miter">o</text>
<text x="279.5" y="204.2" style="font-family:&quot;Liberation Sans&quot;,sans-serif" font-size="48.5" font-weight="700" fill="#fff" textLength="650.5" lengthAdjust="spacingAndGlyphs" stroke="#fff" stroke-width="3.6" stroke-linejoin="miter">CONGRESO NACIONAL</text>
<text x="282.9" y="272.2" style="font-family:&quot;Liberation Sans&quot;,sans-serif" font-size="50.0" font-weight="700" fill="#fff" textLength="572.8" lengthAdjust="spacingAndGlyphs" stroke="#fff" stroke-width="3.6" stroke-linejoin="miter">NEUROPSICOLOGÍA</text>
<text x="1117.7" y="269.5" style="font-family:&quot;Liberation Sans&quot;,sans-serif" font-size="132.3" font-weight="700" fill="#fff" textLength="545.7" lengthAdjust="spacingAndGlyphs" stroke="#fff" stroke-width="9" stroke-linejoin="miter">FANPSE</text>
<text x="2650.2" y="215.5" style="font-family:&quot;Liberation Sans&quot;,sans-serif" font-size="42.2" font-weight="400" fill="#fff" textLength="238.9" lengthAdjust="spacingAndGlyphs">5-7 MARZO</text>
<rect x="2632" y="172.5" width="2.2" height="48.5" fill="#fff"/><rect x="2907" y="172.5" width="2.2" height="48.5" fill="#fff"/>
<text x="2461.7" y="278.5" style="font-family:&quot;Liberation Sans&quot;,sans-serif" font-size="50.9" font-weight="700" fill="#fff" textLength="447.0" lengthAdjust="spacingAndGlyphs" stroke="#fff" stroke-width="3" stroke-linejoin="miter">VALENCIA 2026</text>
</svg>
<svg width="420" height="140" viewBox="40 425 420 140" style="left:40px;top:425px">
<defs><clipPath id="xh"><rect x="40" y="463.5" width="420" height="100"/></clipPath></defs>
<text x="60.4" y="456.5" style="font-family:&quot;Liberation Sans&quot;,sans-serif" font-size="24.8" fill="#2b2a2a" stroke="#fff" stroke-width="0.5" textLength="177" lengthAdjust="spacing">FUNDACIÓN</text>
<g clip-path="url(#xh)"><text x="50.5" y="549.7" style="font-family:&quot;Liberation Sans&quot;,sans-serif" font-size="159" font-weight="700" fill="#0381c4" stroke="#0381c4" stroke-width="3" textLength="399" lengthAdjust="spacingAndGlyphs">intras</text></g>
</svg>
<svg width="430" height="230" viewBox="2440 370 430 230" style="left:2440px;top:370px">
<g fill="none" stroke="#2aa9b9" stroke-width="6.5" stroke-linecap="round" stroke-linejoin="round" transform="translate(2440 370) scale(0.28533)">
<path d="M770 97 C715 120 690 170 740 212 C800 190 815 140 770 97 Z M755 135 C745 180 735 230 745 275 C752 310 775 335 793 345"/>
<path d="M645 220 C640 265 665 300 720 290 C725 240 700 215 645 220 Z M675 250 C700 270 725 285 748 290"/>
<path d="M850 215 C795 215 768 245 775 290 C830 295 855 260 850 215 Z M820 245 C800 265 780 280 752 292"/>
</g>
<text x="2545" y="499.8" style="font-family:&quot;Liberation Sans&quot;,sans-serif" font-size="26.5" fill="#2a316b" stroke="#fff" stroke-width="0.5" textLength="215" lengthAdjust="spacing">CLÍNICAS DE</text>
<text x="2474" y="564.6" style="font-family:&quot;Liberation Sans&quot;,sans-serif" fill="#262e66" stroke="#fff" stroke-width="1.8" textLength="356" lengthAdjust="spacingAndGlyphs"><tspan font-size="65">M</tspan><tspan font-size="78">e</tspan><tspan font-size="65">MO</tspan><tspan font-size="78">r</tspan><tspan font-size="68" dx="7">i</tspan><tspan font-size="78" dx="-1">a</tspan></text>
<rect x="2762" y="510" width="16" height="15.5" fill="#fff"/>
<circle cx="2770" cy="523.2" r="3.2" fill="#2aa9b9"/>
</svg>
<div class="t" style="left:0.0px;top:345.7px;font-size:64px;line-height:76.80px;color:#000;font-weight:700;width:2857.6px;text-align:center;">USABILIDAD Y EFECTOS DE UNA PLATAFORMA DE</div>
<div class="t" style="left:0.0px;top:420.4px;font-size:64px;line-height:76.80px;color:#000;font-weight:700;width:2857.0px;text-align:center;">INTERVENCIÓN TECNOLÓGICA EN PERSONAS MAYORES</div>
<div class="t" style="left:0.0px;top:498.2px;font-size:50px;line-height:60.00px;color:#000;width:2860.0px;text-align:center;">Herrero Blanco, A¹.; Bueno Aguado, Y¹; Saiz Cervera, M. ¹; Antolín Pérez, R.¹; Cid-</div>
<div class="t" style="left:0.0px;top:558.6px;font-size:49.85px;line-height:59.82px;color:#000;width:2857.0px;text-align:center;">Bartolomé, T.; Losada, R.¹;García, M¹.</div>
<div class="t" style="left:0.0px;top:615.5px;font-size:39.8px;line-height:47.76px;color:#000;width:2857.0px;text-align:center;">¹Fundación INTRAS, Valladolid.</div>
<div class="t" style="left:943.5px;top:662.6px;font-size:48px;line-height:57.60px;color:#000;white-space:nowrap;"><span style="color:#19a09a;text-decoration:underline">ahb@intras.es</span></div>
<div class="t" style="left:1293.0px;top:662.6px;font-size:48px;line-height:57.60px;color:#000;white-space:nowrap;"><span style="color:#333399;text-decoration:underline;font-weight:700">www.clinicasdememoria.es</span></div>
<div class="r" style="left:111.0px;top:721.0px;width:2773.5px;height:83.8px;background:#a4a3df;"></div>
<div class="t" style="left:111.0px;top:730.0px;font-size:55.9px;line-height:67.08px;color:#000;font-weight:700;width:2773.5px;text-align:center;">INTRODUCCIÓN</div>
<div class="r" style="left:110.5px;top:1077.3px;width:2765.1px;height:82.1px;background:#a4a3df;"></div>
<div class="t" style="left:110.5px;top:1085.4px;font-size:55.9px;line-height:67.08px;color:#000;font-weight:700;width:2765.1px;text-align:center;">OBJETIVOS</div>
<div class="r" style="left:121.0px;top:1312.3px;width:2754.0px;height:82.3px;background:#a4a3df;"></div>
<div class="t" style="left:121.0px;top:1320.5px;font-size:55.9px;line-height:67.08px;color:#000;font-weight:700;width:2754.0px;text-align:center;">MÉTODO</div>
<div class="r" style="left:107.6px;top:2514.5px;width:2754.7px;height:82.8px;background:#a4a3df;"></div>
<div class="t" style="left:107.6px;top:2523.0px;font-size:55.9px;line-height:67.08px;color:#000;font-weight:700;width:2754.7px;text-align:center;">RESULTADOS</div>
<div class="r" style="left:63.6px;top:4070.2px;width:2820.9px;height:82.2px;background:#a4a3df;"></div>
<div class="t" style="left:63.6px;top:4078.4px;font-size:55.9px;line-height:67.08px;color:#000;font-weight:700;width:2820.9px;text-align:center;">CONCLUSIONES</div>
<div class="r" style="left:85.0px;top:4476.0px;width:2816.8px;height:82.3px;background:#a4a3df;"></div>
<div class="t" style="left:85.0px;top:4484.2px;font-size:55.9px;line-height:67.08px;color:#000;font-weight:700;width:2816.8px;text-align:center;">BIBLIOGRAFÍA</div>
<div class="t" style="left:126.5px;top:814.0px;font-size:52px;line-height:62.40px;color:#000;width:2742.0px;text-align:left;text-align:justify;text-align-last:justify;">El envejecimiento de la población ha impulsado la creación de tecnologías orientadas a la intervención cognitiva y el</div>
<div class="t" style="left:126.5px;top:876.3px;font-size:52px;line-height:62.40px;color:#000;width:2742.0px;text-align:left;text-align:justify;text-align-last:justify;">mantenimiento emocional. Varios estudios señalan que la realidad virtual y las plataformas de estimulación cognitiva</div>
<div class="t" style="left:126.5px;top:939.2px;font-size:52px;line-height:62.40px;color:#000;width:2742.0px;text-align:left;text-align:justify;text-align-last:justify;">mejoran la motivación, adherencia y la neuroplasticidad en personas mayores (Oliveira et al., 2021; García Betances</div>
<div class="t" style="left:126.5px;top:1001.0px;font-size:52px;line-height:62.40px;color:#000;white-space:nowrap;">et al., 2015).</div>
<div class="t" style="left:137.0px;top:1192.6px;font-size:52px;line-height:62.40px;color:#000;width:2721.0px;text-align:left;text-align:justify;text-align-last:justify;">Evaluar la&nbsp; <b>adherencia y experiencia de los usuarios y los efectos de</b>&nbsp; la plataforma de intervención cognitiva y</div>
<div class="t" style="left:137.0px;top:1256.6px;font-size:52px;line-height:62.40px;color:#000;white-space:nowrap;">multisensorial en los usuarios.</div>
<div class="t" style="left:182.7px;top:1442.3px;font-size:47.85px;line-height:57.42px;color:#333399;font-weight:700;white-space:nowrap;">Estimulación cognitiva mediante TABLET:</div>
<div class="t" style="left:182.7px;top:1500.7px;font-size:47.85px;line-height:57.42px;color:#000;white-space:nowrap;">N= 81 personas mayores de 55 años.</div>
<div class="t" style="left:182.7px;top:1557.2px;font-size:47.85px;line-height:57.42px;color:#000;white-space:nowrap;">Evaluación cogntiva pre-post:</div>
<div class="t" style="left:182.7px;top:1615.4px;font-size:47.85px;line-height:57.42px;color:#000;white-space:nowrap;">•</div>
<div class="t" style="left:236.4px;top:1615.4px;font-size:47.85px;line-height:57.42px;color:#000;white-space:nowrap;">Mini-Mental State Examination (MMSE)</div>
<div class="t" style="left:182.7px;top:1672.5px;font-size:47.85px;line-height:57.42px;color:#000;white-space:nowrap;">•</div>
<div class="t" style="left:236.4px;top:1672.5px;font-size:47.85px;line-height:57.42px;color:#000;white-space:nowrap;">Test de alteración de memoria (T@M)</div>
<div class="t" style="left:182.7px;top:1729.6px;font-size:47.85px;line-height:57.42px;color:#000;white-space:nowrap;">•</div>
<div class="t" style="left:236.4px;top:1729.6px;font-size:47.85px;line-height:57.42px;color:#000;white-space:nowrap;">Test de fluencia verbal (TFV)</div>
<div class="t" style="left:182.7px;top:1786.7px;font-size:47.85px;line-height:57.42px;color:#000;white-space:nowrap;">•</div>
<div class="t" style="left:236.4px;top:1786.7px;font-size:47.85px;line-height:57.42px;color:#000;white-space:nowrap;">Trail Making Test A y B</div>
<div class="t" style="left:1671.2px;top:1440.3px;font-size:47.85px;line-height:57.42px;color:#333399;font-weight:700;white-space:nowrap;">Estimulación multisensorial con realidad virtual:</div>
<div class="t" style="left:1671.2px;top:1497.7px;font-size:47.85px;line-height:57.42px;color:#000;white-space:nowrap;">N= 30 personas mayores de 55 años.</div>
<div class="t" style="left:1671.2px;top:1554.7px;font-size:47.85px;line-height:57.42px;color:#000;white-space:nowrap;">Evaluación emocional según edad:</div>
<div class="t" style="left:1671.2px;top:1613.4px;font-size:47.85px;line-height:57.42px;color:#000;white-space:nowrap;">•</div>
<div class="t" style="left:1724.7px;top:1613.4px;font-size:47.85px;line-height:57.42px;color:#000;white-space:nowrap;">Escala de depresión de Yesavage (&gt;65 años)</div>
<div class="t" style="left:1671.2px;top:1670.2px;font-size:47.85px;line-height:57.42px;color:#000;white-space:nowrap;">•</div>
<div class="t" style="left:1724.7px;top:1670.2px;font-size:47.85px;line-height:57.42px;color:#000;white-space:nowrap;">Escala de depresión de Beck (&lt;65 años).</div>
<div class="t" style="left:783.5px;top:1784.7px;font-size:47.85px;line-height:57.42px;color:#000;width:1200.0px;text-align:center;">Medidas comunes en dos grupos</div>
<div class="t" style="left:783.5px;top:1841.9px;font-size:47.85px;line-height:57.42px;color:#000;width:1200.0px;text-align:center;">Cuestionario de Aceptación y Usabilidad (SUS)</div>
<div class="t" style="left:783.5px;top:1899.1px;font-size:47.85px;line-height:57.42px;color:#000;width:1200.0px;text-align:center;">Cuestionario de Experiencia del usuario (UEQ)</div>
<svg width="2948" height="300" viewBox="0 1800 2948 300" style="left:0;top:1800px">
<path d="M580 1859H657V1970H696L618 2048L540 1970H580Z" fill="#b7e0e4"/>
<path d="M2239 1811H2317V1932.6H2356L2277 2011L2198 1932.6H2239Z" fill="#b7e0e4"/>
</svg>
<div class="t" style="left:214.0px;top:2057.4px;font-size:47.85px;line-height:57.42px;color:#333399;font-weight:700;width:800.0px;text-align:center;">2 sesiones semanales de 30</div>
<div class="t" style="left:214.0px;top:2114.6px;font-size:47.85px;line-height:57.42px;color:#333399;font-weight:700;width:800.0px;text-align:center;">minutos de duración.</div>
<div class="t" style="left:214.0px;top:2171.8px;font-size:47.85px;line-height:57.42px;color:#333399;font-weight:700;width:800.0px;text-align:center;">6 meses</div>
<div class="t" style="left:1782.0px;top:2065.0px;font-size:47.85px;line-height:57.42px;color:#333399;font-weight:700;width:1000.0px;text-align:center;">1 sesión semanal de 20 minutos.</div>
<div class="t" style="left:1782.0px;top:2122.2px;font-size:47.85px;line-height:57.42px;color:#333399;font-weight:700;width:1000.0px;text-align:center;">14 semanas</div>
<svg width="2948" height="260" viewBox="0 2230 2948 260" style="left:0;top:2230px">
<defs><linearGradient id="gy" gradientUnits="userSpaceOnUse" x1="548" y1="440" x2="960" y2="70"><stop offset="0" stop-color="#eceb8a"/><stop offset="0.25" stop-color="#e4e314"/><stop offset="0.5" stop-color="#e0de04"/><stop offset="0.75" stop-color="#a8c93a"/><stop offset="1" stop-color="#72b53c"/></linearGradient>
<linearGradient id="gp" gradientUnits="userSpaceOnUse" x1="548" y1="440" x2="960" y2="70"><stop offset="0" stop-color="#b0aae4"/><stop offset="0.35" stop-color="#8b8bcc"/><stop offset="0.7" stop-color="#675fc6"/><stop offset="1" stop-color="#6355c8"/></linearGradient></defs>
<g transform="translate(390 2250) scale(0.2787)"><path d="M700 68 L930 75 Q962 78 958 112 L955 140 Q950 160 925 162 Q905 165 905 190 Q910 332 760 338 Q600 335 597 200 Q600 72 700 68 Z M755 145 A55 65 0 1 0 755.1 275 A55 65 0 1 0 755 145 Z" fill-rule="evenodd" fill="url(#gy)"/><path d="M575 358 L905 358 Q890 435 790 440 L575 440 Q548 440 548 412 L548 385 Q548 358 575 358 Z" fill="url(#gy)"/></g>
<g transform="translate(2083 2220.2) scale(0.3029 0.3035)"><path d="M700 68 L930 75 Q962 78 958 112 L955 140 Q950 160 925 162 Q905 165 905 190 Q910 332 760 338 Q600 335 597 200 Q600 72 700 68 Z M755 145 A55 65 0 1 0 755.1 275 A55 65 0 1 0 755 145 Z" fill-rule="evenodd" fill="url(#gp)"/><path d="M575 358 L905 358 Q890 435 790 440 L575 440 Q548 440 548 412 L548 385 Q548 358 575 358 Z" fill="url(#gp)"/></g>
<text x="414" y="2446.5" style="font-family:&quot;Liberation Sans&quot;,sans-serif" font-size="71" fill="#747474" stroke="#fff" stroke-width="1.9" textLength="371" lengthAdjust="spacing">GRADIOR</text>
<text x="497.3" y="2474.3" style="font-family:&quot;Liberation Sans&quot;,sans-serif" font-size="21" fill="#8a8a8a" textLength="205" lengthAdjust="spacingAndGlyphs">estimulación cognitiva</text>
<text x="2110" y="2433" style="font-family:&quot;Liberation Sans&quot;,sans-serif" font-size="78" fill="#747474" stroke="#fff" stroke-width="2.0" textLength="402" lengthAdjust="spacing">GRADIOR</text>
<text x="2241" y="2463.8" style="font-family:&quot;Liberation Sans&quot;,sans-serif" font-size="23" fill="#8a8a8a" textLength="139.5" lengthAdjust="spacingAndGlyphs">multisensorial</text>
</svg>
<svg width="860" height="560" viewBox="1045 1945 860 560" style="left:1045px;top:1945px">
<defs><filter id="pb" x="-10%" y="-10%" width="120%" height="120%"><feGaussianBlur stdDeviation="8"/></filter><mask id="pm" maskUnits="userSpaceOnUse" x="1045" y="1945" width="860" height="560"><ellipse cx="1474" cy="2221" rx="341" ry="257" fill="#fff" filter="url(#pb)"/></mask><filter id="soft"><feGaussianBlur stdDeviation="1.2"/></filter></defs>
<g mask="url(#pm)"><g transform="translate(1050 1950) scale(0.564)" filter="url(#soft)">
<rect x="0" y="0" width="1507" height="975" fill="#efe9e0"/>
<path d="M0 0 L260 0 L200 975 L0 975Z" fill="#e3d3bd"/>
<path d="M250 975 L294 814 L600 445 L1507 405 L1507 975 Z" fill="#88837d"/>
<path d="M600 445 L1507 405 L1507 440 L600 478 Z" fill="#55524f"/>
<path d="M294 814 L600 445 L600 478 L300 850 Z" fill="#6d6965"/>
<path d="M960 700 L1507 640 L1507 975 L900 975 Z" fill="#9a958f"/>
<path d="M690 20 L620 400 M690 20 L760 460 M690 20 L700 440" stroke="#b9b9b9" stroke-width="7" fill="none"/>
<path d="M645 385 L735 385 L722 470 L658 470 Z" fill="#b5b5b5"/>
<path d="M860 250 Q870 230 900 232 L1260 245 Q1290 248 1300 270 L1370 440 L1370 560 L900 530 Q830 520 822 440 L820 330 Q825 300 850 305 Z" fill="#e2b711"/>
<path d="M880 440 Q1100 470 1370 440 L1370 560 L900 530 Q860 500 880 440Z" fill="#d4a80c"/>
<path d="M880 440 Q1100 470 1370 440 L1370 470 Q1100 500 885 470Z" fill="#e8c21c"/>
<g fill="#c9a00a"><circle cx="935" cy="312" r="4"/><circle cx="985" cy="362" r="4"/><circle cx="987" cy="315" r="4"/><circle cx="1037" cy="364" r="4"/><circle cx="1039" cy="318" r="4"/><circle cx="1089" cy="366" r="4"/><circle cx="1091" cy="321" r="4"/><circle cx="1141" cy="368" r="4"/><circle cx="1143" cy="324" r="4"/><circle cx="1193" cy="370" r="4"/><circle cx="1195" cy="327" r="4"/><circle cx="1245" cy="372" r="4"/><circle cx="1247" cy="330" r="4"/><circle cx="1297" cy="374" r="4"/><circle cx="1299" cy="333" r="4"/><circle cx="1349" cy="376" r="4"/></g>
<defs><linearGradient id="scr" x1="0" y1="0" x2="0.2" y2="1"><stop offset="0" stop-color="#7fa3d6"/><stop offset="0.35" stop-color="#d7b3c4"/><stop offset="1" stop-color="#d99aa8"/></linearGradient></defs>
<path d="M1030 535 L1330 560 L1370 620 L1290 730 L1120 690 Z" fill="#f4f2ef"/>
<path d="M1010 540 L990 700 L1060 870 M1130 700 L1080 860 M1290 730 L1300 700" stroke="#cfcfcf" stroke-width="6" fill="none"/>
<path d="M1122 497 L1330 548 L1300 655 L1095 605 Z" fill="url(#scr)" stroke="#222" stroke-width="4"/>
<path d="M1095 605 L1300 655 L1275 722 L1060 665 Z" fill="#dfe2e8"/>
<path d="M178 415 Q172 390 210 380 L335 305 Q372 288 384 330 L475 700 L700 722 Q862 765 860 810 Q850 850 760 842 L480 830 Q430 822 405 770 Z" fill="#e0b313"/>
<path d="M405 770 Q430 822 480 830 L760 842 Q850 850 860 810 L855 848 Q800 892 700 882 L490 872 Q440 862 405 770Z" fill="#c99a0a"/>
<path d="M520 875 L490 955 M760 870 L800 955" stroke="#d8b98a" stroke-width="14"/>
<path d="M700 560 L880 530 Q930 540 920 610 L960 680 Q990 760 960 900 L830 910 L800 760 L690 740 Z" fill="#1c2238"/>
<path d="M370 300 Q420 280 520 330 L610 400 L740 590 L700 640 L560 650 L440 700 L330 470 Q300 380 370 300Z" fill="#474b49"/>
<path d="M330 420 Q380 400 430 440 L520 640 L740 690 L760 760 L690 780 L470 720 Q420 700 400 650 Z" fill="#6f88b4"/>
<path d="M370 300 Q400 285 440 300 L500 330 L480 350 Z" fill="#7590bd"/>
<path d="M690 680 Q760 680 770 740 Q760 790 720 780 Q680 760 690 680Z" fill="#c79a80"/>
<path d="M340 160 Q400 100 500 140 Q540 170 530 260 L520 320 Q470 340 420 300 L370 290 Q320 230 340 160Z" fill="#c9a088"/>
<path d="M330 170 Q390 95 490 135 L470 200 L400 230 L370 290 Q310 240 330 170Z" fill="#9b9b9b"/>
<path d="M290 190 Q300 165 330 180 L545 175 Q580 200 570 245 Q540 265 500 250 L330 220 Q295 215 290 190Z" fill="#ebe8e3"/>
<path d="M460 190 L545 175 Q560 215 545 255 L490 262 Q455 235 460 190Z" fill="#2c2c2e"/>
<path d="M400 100 Q450 85 500 130 L480 145 Q440 110 405 118Z" fill="#2c2c2e"/>
</g></g></svg>
<div class="t" style="left:608.3px;top:2622.3px;font-size:47.85px;line-height:57.42px;color:#333399;font-weight:700;white-space:nowrap;">Adherencia al tratamiento</div>
<div class="t" style="left:2027.0px;top:2637.5px;font-size:47.85px;line-height:57.42px;color:#333399;font-weight:700;white-space:nowrap;">Experiencia del usuario</div>
<div class="t" style="left:338.0px;top:3202.7px;font-size:47.85px;line-height:57.42px;color:#333399;white-space:nowrap;">Estimulación cognitiva</div>
<div class="t" style="left:1112.3px;top:3211.5px;font-size:47.85px;line-height:57.42px;color:#333399;white-space:nowrap;">Estimulación multisensorial</div>
<div class="t" style="left:2089.5px;top:3321.9px;font-size:47.85px;line-height:57.42px;color:#333399;white-space:nowrap;">Estimulación cognitiva</div>
<div class="t" style="left:633.4px;top:3305.9px;font-size:47.85px;line-height:57.42px;color:#333399;font-weight:700;white-space:nowrap;">Efectos del tratamiento</div>
<div class="t" style="left:72.0px;top:3970.7px;font-size:47.85px;line-height:57.42px;color:#333399;white-space:nowrap;">T@M Diferencias Pre-post - cognitiva</div>
<div class="t" style="left:975.5px;top:3970.1px;font-size:47.85px;line-height:57.42px;color:#333399;white-space:nowrap;">Depresión (GDS) pre-post multisensorial</div>
<div class="t" style="left:2019.5px;top:3986.5px;font-size:47.85px;line-height:57.42px;color:#333399;white-space:nowrap;">Estimulación multisensorial</div>
<svg width="2948" height="560" viewBox="0 2680 2948 560" style="left:0;top:2680px">
<path d="M539.6 2715.4A20.0 20.0 0 0 1 557.5 2704.3L746.1 2704.3A20.0 20.0 0 0 1 764.0 2715.4L859.7 2907.7A20.0 20.0 0 0 1 859.7 2925.5L764.0 3117.8A20.0 20.0 0 0 1 746.1 3128.9L557.5 3128.9A20.0 20.0 0 0 1 539.6 3117.8L443.9 2925.5A20.0 20.0 0 0 1 443.9 2907.7Z" fill="#7c66e8"/>
<path d="M572.1 2839.9A24.0 24.0 0 0 1 593.7 2826.3L710.7 2826.3A24.0 24.0 0 0 1 732.3 2839.9L789.5 2959.2A24.0 24.0 0 0 1 789.5 2980.0L732.3 3099.3A24.0 24.0 0 0 1 710.7 3112.9L593.7 3112.9A24.0 24.0 0 0 1 572.1 3099.3L514.9 2980.0A24.0 24.0 0 0 1 514.9 2959.2Z" fill="#b95fe2" stroke="#fff" stroke-width="2.4"/>
<text x="637.1" y="2774.4" style="font-family:&quot;Liberation Sans&quot;,sans-serif" font-size="30" fill="#fff" textLength="27.7" lengthAdjust="spacingAndGlyphs">81</text>
<text x="622.5" y="2979.2" style="font-family:&quot;Liberation Sans&quot;,sans-serif" font-size="30" fill="#fff" textLength="60.1" lengthAdjust="spacingAndGlyphs">3585</text>
<text x="46.7" y="2838.4" style="font-family:&quot;Liberation Sans&quot;,sans-serif" font-size="32.7" font-weight="700" fill="#7c66e8" textLength="256.4" lengthAdjust="spacingAndGlyphs">Total de Participantes</text>
<text x="65.6" y="2884.6" style="font-family:&quot;Liberation Sans&quot;,sans-serif" font-size="24.3" fill="#4d4d4d" textLength="237.4" lengthAdjust="spacingAndGlyphs">Participantes iniciales en la</text>
<text x="196.9" y="2910.5" style="font-family:&quot;Liberation Sans&quot;,sans-serif" font-size="24.3" fill="#4d4d4d" textLength="106.1" lengthAdjust="spacingAndGlyphs">intervención</text>
<text x="193.9" y="2997.7" style="font-family:&quot;Liberation Sans&quot;,sans-serif" font-size="32.7" font-weight="700" fill="#b95fe2" textLength="109.1" lengthAdjust="spacingAndGlyphs">Sesiones</text>
<text x="147.0" y="3033.5" style="font-family:&quot;Liberation Sans&quot;,sans-serif" font-size="32.7" font-weight="700" fill="#b95fe2" textLength="156.1" lengthAdjust="spacingAndGlyphs">Completadas</text>
<text x="151.0" y="3066.4" style="font-family:&quot;Liberation Sans&quot;,sans-serif" font-size="24.3" fill="#4d4d4d" textLength="152.1" lengthAdjust="spacingAndGlyphs">Total de sesiones</text>
<text x="126.9" y="3093.0" style="font-family:&quot;Liberation Sans&quot;,sans-serif" font-size="24.3" fill="#4d4d4d" textLength="176.1" lengthAdjust="spacingAndGlyphs">completadas por los</text>
<text x="191.5" y="3120.1" style="font-family:&quot;Liberation Sans&quot;,sans-serif" font-size="24.3" fill="#4d4d4d" textLength="111.6" lengthAdjust="spacingAndGlyphs">participantes</text>
<path d="M353.3 2773.7L380.4 2773.7L408.1 2826.8L380.4 2880.5L353.3 2880.5M408.1 2826.8L481.4 2826.8" fill="none" stroke="#7c66e8" stroke-width="2.7" stroke-linejoin="round"/><circle cx="408.1" cy="2826.8" r="5.1" fill="#7c66e8"/><circle cx="481.4" cy="2826.8" r="5.1" fill="#7c66e8"/>
<path d="M353.3 2952.7L380.4 2952.7L408.1 3005.2L380.4 3058.3L353.3 3058.3M408.1 3005.2L524.7 3005.2" fill="none" stroke="#b95fe2" stroke-width="2.7" stroke-linejoin="round"/><circle cx="408.1" cy="3005.2" r="5.1" fill="#b95fe2"/><circle cx="524.7" cy="3005.2" r="5.1" fill="#b95fe2"/>
<g transform="translate(30 2690) scale(0.5773)" fill="none" stroke-width="4.6" stroke-linecap="round" stroke-linejoin="round">
<g stroke="#7c66e8"><circle cx="529.3" cy="264.1" r="9.6"/><circle cx="561" cy="257.3" r="15"/><circle cx="592.5" cy="264.1" r="10"/><path d="M512 299 Q516 286 527.7 284.3 Q535 284 539.5 290 M537 299 Q541 284 552.5 278.7 Q561.5 274.5 571 279 Q581 285 584 299 M581.7 288.8 Q587 284 593 284.3 Q605 285 609.9 299"/><path d="M591.9 180.2 L570.5 180.9 Q562 183 550.2 194.4 Q543 198 542.4 209 Q538.5 219 539 227 Q540 233.5 544.6 233.7 Q551 233 552.5 229.2 L557 211.2 Q563 203 572.7 198.9 Q579 198 581.7 203.4 Q584 207 582.9 211.2 Q578 217 572.7 222.5 Q569 229 571.6 233.7 Q574 237.5 577.2 237.1 Q587 231 595.2 223.6 Q600 220 602 215.7 L604.2 204.5"/></g>
<g stroke="#b95fe2"><path d="M541.2 487.9 L580.6 530.7 M580.6 487.9 L541.2 530.7"/><circle cx="521" cy="572.3" r="11.2"/><circle cx="560.8" cy="567.8" r="16"/><circle cx="600.9" cy="572.3" r="11.2"/><path d="M508.6 595.9 Q515 590 521 590.3 Q528 590.5 533.4 594.8 Q538 599 540.1 604.9 Q543 599.5 548 597 Q554 592.5 560.8 592.5 Q568 592.5 573.9 597 Q579 600 581.7 604.9 Q583.5 599 587.4 595.9 Q594 590 600.9 590.3 Q608 591 613.2 595.9"/></g>
</g>
<path d="M1290.8 2735.1A22.9 22.9 0 0 1 1311.3 2722.5L1507.5 2722.5A22.9 22.9 0 0 1 1528.0 2735.1L1625.8 2930.8A22.9 22.9 0 0 1 1625.8 2951.3L1528.0 3146.9A22.9 22.9 0 0 1 1507.5 3159.6L1311.3 3159.6A22.9 22.9 0 0 1 1290.8 3146.9L1193.1 2951.3A22.9 22.9 0 0 1 1193.1 2930.8Z" fill="#7c66e8"/>
<path d="M1313.6 2810.5A21.0 21.0 0 0 1 1332.4 2798.9L1485.5 2798.9A21.0 21.0 0 0 1 1504.3 2810.5L1581.1 2964.6A21.0 21.0 0 0 1 1581.1 2983.4L1504.3 3137.4A21.0 21.0 0 0 1 1485.5 3149.1L1332.4 3149.1A21.0 21.0 0 0 1 1313.6 3137.4L1236.8 2983.4A21.0 21.0 0 0 1 1236.8 2964.6Z" fill="#b95fe2" stroke="#fff" stroke-width="1.8"/>
<path d="M1336.8 2886.4A19.1 19.1 0 0 1 1353.9 2875.8L1465.0 2875.8A19.1 19.1 0 0 1 1482.1 2886.4L1537.8 2997.9A19.1 19.1 0 0 1 1537.8 3015.0L1482.1 3126.6A19.1 19.1 0 0 1 1465.0 3137.2L1353.9 3137.2A19.1 19.1 0 0 1 1336.8 3126.6L1281.1 3015.0A19.1 19.1 0 0 1 1281.1 2997.9Z" fill="#dc58a8" stroke="#fff" stroke-width="1.8"/>
<path d="M1359.8 2961.8A17.2 17.2 0 0 1 1375.2 2952.3L1443.7 2952.3A17.2 17.2 0 0 1 1459.1 2961.8L1494.0 3031.8A17.2 17.2 0 0 1 1494.0 3047.1L1459.1 3117.1A17.2 17.2 0 0 1 1443.7 3126.6L1375.2 3126.6A17.2 17.2 0 0 1 1359.8 3117.1L1324.9 3047.1A17.2 17.2 0 0 1 1324.9 3031.8Z" fill="#e45756" stroke="#fff" stroke-width="1.8"/>
<text x="1399.6" y="2766.4" style="font-family:&quot;Liberation Sans&quot;,sans-serif" font-size="21" fill="#fff" textLength="19.2" lengthAdjust="spacingAndGlyphs">30</text>
<text x="1394.8" y="2843.3" style="font-family:&quot;Liberation Sans&quot;,sans-serif" font-size="21" fill="#fff" textLength="28.7" lengthAdjust="spacingAndGlyphs">458</text>
<text x="1394.8" y="2919.8" style="font-family:&quot;Liberation Sans&quot;,sans-serif" font-size="21" fill="#fff" textLength="28.7" lengthAdjust="spacingAndGlyphs">426</text>
<text x="1397.2" y="3046.4" style="font-family:&quot;Liberation Sans&quot;,sans-serif" font-size="21" fill="#fff" textLength="23.9" lengthAdjust="spacingAndGlyphs">3,8</text>
<text x="951.5" y="2771.7" style="font-family:&quot;Liberation Sans&quot;,sans-serif" font-size="18.8" font-weight="700" fill="#7c66e8" textLength="155.7" lengthAdjust="spacingAndGlyphs">Participantes durante</text>
<text x="1036.2" y="2793.6" style="font-family:&quot;Liberation Sans&quot;,sans-serif" font-size="18.8" font-weight="700" fill="#7c66e8" textLength="71.1" lengthAdjust="spacingAndGlyphs">el estudio</text>
<text x="1015.2" y="2811.3" style="font-family:&quot;Liberation Sans&quot;,sans-serif" font-size="14.0" fill="#4d4d4d" textLength="92.1" lengthAdjust="spacingAndGlyphs">Los participantes</text>
<text x="958.3" y="2828.0" style="font-family:&quot;Liberation Sans&quot;,sans-serif" font-size="14.0" fill="#4d4d4d" textLength="149.0" lengthAdjust="spacingAndGlyphs">completaron la intervención</text>
<text x="972.1" y="2881.5" style="font-family:&quot;Liberation Sans&quot;,sans-serif" font-size="18.8" font-weight="700" fill="#b95fe2" textLength="135.1" lengthAdjust="spacingAndGlyphs">Espacios Virtuales</text>
<text x="1039.8" y="2903.0" style="font-family:&quot;Liberation Sans&quot;,sans-serif" font-size="18.8" font-weight="700" fill="#b95fe2" textLength="67.4" lengthAdjust="spacingAndGlyphs">Visitados</text>
<text x="964.4" y="2921.2" style="font-family:&quot;Liberation Sans&quot;,sans-serif" font-size="14.0" fill="#4d4d4d" textLength="142.9" lengthAdjust="spacingAndGlyphs">Total de espacios virtuales</text>
<text x="1059.9" y="2937.9" style="font-family:&quot;Liberation Sans&quot;,sans-serif" font-size="14.0" fill="#4d4d4d" textLength="47.4" lengthAdjust="spacingAndGlyphs">visitados</text>
<text x="957.4" y="3002.4" style="font-family:&quot;Liberation Sans&quot;,sans-serif" font-size="18.8" font-weight="700" fill="#dc58a8" textLength="149.8" lengthAdjust="spacingAndGlyphs">Sesiones Realizadas</text>
<text x="952.9" y="3031.1" style="font-family:&quot;Liberation Sans&quot;,sans-serif" font-size="14.0" fill="#4d4d4d" textLength="154.4" lengthAdjust="spacingAndGlyphs">Sesiones realizadas hacia el</text>
<text x="1065.3" y="3047.8" style="font-family:&quot;Liberation Sans&quot;,sans-serif" font-size="14.0" fill="#4d4d4d" textLength="42.0" lengthAdjust="spacingAndGlyphs">objetivo</text>
<text x="975.5" y="3111.8" style="font-family:&quot;Liberation Sans&quot;,sans-serif" font-size="18.8" font-weight="700" fill="#e45756" textLength="131.8" lengthAdjust="spacingAndGlyphs">Visitas Realizadas</text>
<text x="948.2" y="3143.4" style="font-family:&quot;Liberation Sans&quot;,sans-serif" font-size="14.0" fill="#4d4d4d" textLength="159.1" lengthAdjust="spacingAndGlyphs">Espacios virtuales a visitados</text>
<path d="M1137.8 2744.0L1154.5 2744.0L1172.2 2776.7L1154.5 2809.9L1137.8 2809.9M1172.2 2776.7L1269.2 2776.7" fill="none" stroke="#7c66e8" stroke-width="1.9" stroke-linejoin="round"/><circle cx="1172.2" cy="2776.7" r="3.6" fill="#7c66e8"/><circle cx="1269.2" cy="2776.7" r="3.6" fill="#7c66e8"/>
<path d="M1137.8 2853.8L1154.5 2853.8L1172.2 2886.6L1154.5 2919.8L1137.8 2919.8M1172.2 2886.6L1276.4 2886.6" fill="none" stroke="#b95fe2" stroke-width="1.9" stroke-linejoin="round"/><circle cx="1172.2" cy="2886.6" r="3.6" fill="#b95fe2"/><circle cx="1276.4" cy="2886.6" r="3.6" fill="#b95fe2"/>
<path d="M1137.8 2962.8L1154.5 2962.8L1172.2 2995.5L1154.5 3028.7L1137.8 3028.7M1172.2 2995.5L1282.6 2995.5" fill="none" stroke="#dc58a8" stroke-width="1.9" stroke-linejoin="round"/><circle cx="1172.2" cy="2995.5" r="3.6" fill="#dc58a8"/><circle cx="1282.6" cy="2995.5" r="3.6" fill="#dc58a8"/>
<path d="M1137.8 3072.7L1154.5 3072.7L1172.2 3105.4L1154.5 3138.6L1137.8 3138.6M1172.2 3105.4L1354.3 3105.4" fill="none" stroke="#e45756" stroke-width="1.9" stroke-linejoin="round"/><circle cx="1172.2" cy="3105.4" r="3.6" fill="#e45756"/><circle cx="1354.3" cy="3105.4" r="3.6" fill="#e45756"/>
<g transform="translate(930 2700) scale(0.4778)" fill="none" stroke-width="3" stroke-linecap="round" stroke-linejoin="round">
<g stroke="#7c66e8"><circle cx="435" cy="128" r="8"/><path d="M423 150 Q435 135 447 150"/><circle cx="408" cy="165" r="7"/><circle cx="463" cy="165" r="7"/><path d="M398 183 Q408 172 418 183 M453 183 Q463 172 473 183"/><path d="M422 160 L448 160 L452 200 L418 200 Z M428 180 h14 v12 h-14z"/></g>
<g stroke="#b95fe2"><path d="M400 350 Q400 345 405 345 L463 345 Q468 345 468 350 L468 375 Q468 380 463 380 L448 380 L440 372 L428 372 L420 380 L405 380 Q400 380 400 375 Z"/><rect x="428" y="390" width="44" height="34" rx="3"/><path d="M450 424 L450 433 M438 433 L462 433 M450 398 L459 402 L459 412 L450 417 L441 412 L441 402 Z"/></g>
<g stroke="#dc58a8"><rect x="398" y="578" width="72" height="84" rx="5"/><path d="M412 603 L418 609 L428 597 M440 605 L458 605 M412 638 L418 644 L428 632 M440 640 L458 640"/></g>
<g stroke="#e45756"><rect x="398" y="818" width="72" height="72" rx="5"/><path d="M398 842 L470 842 M415 808 L415 828 M453 808 L453 828 M430 868 L458 858 M430 868 L438 860 M430 868 L440 874"/><circle cx="414" cy="872" r="2.5"/></g>
</g>
</svg>
<svg width="1200" height="1300" viewBox="1780 2720 1200 1300" style="left:1780px;top:2720px">
<rect x="2084.1" y="2774.6" width="460.9" height="31.2" fill="#66c2a5"/>
<path d="M2545.0 2790.2H2556.7" stroke="#000" stroke-width="2.7"/>
<rect x="2084.1" y="2835.5" width="445.7" height="31.2" fill="#66c2a5"/>
<path d="M2529.8 2851.1H2541.5" stroke="#000" stroke-width="2.7"/>
<rect x="2084.1" y="2895.7" width="376.3" height="31.2" fill="#66c2a5"/>
<path d="M2460.4 2911.3H2477.8" stroke="#000" stroke-width="2.7"/>
<rect x="2084.1" y="2955.9" width="362.6" height="31.2" fill="#66c2a5"/>
<path d="M2446.7 2971.5H2463.4" stroke="#000" stroke-width="2.7"/>
<rect x="2084.1" y="3016.8" width="361.8" height="31.2" fill="#66c2a5"/>
<path d="M2445.9 3032.4H2461.1" stroke="#000" stroke-width="2.7"/>
<rect x="2084.1" y="3077.0" width="405.8" height="31.2" fill="#66c2a5"/>
<path d="M2489.9 3092.6H2501.3" stroke="#000" stroke-width="2.7"/>
<rect x="2084.1" y="3138.0" width="358.8" height="31.2" fill="#66c2a5"/>
<path d="M2442.9 3153.6H2456.6" stroke="#000" stroke-width="2.7"/>
<rect x="2084.1" y="3198.1" width="401.3" height="31.2" fill="#66c2a5"/>
<path d="M2485.4 3213.7H2497.5" stroke="#000" stroke-width="2.7"/>
<rect x="2084.1" y="2753.6" width="531.0" height="497.5" fill="none" stroke="#222" stroke-width="1.3"/>
<path d="M2078.1 2790.2H2084.1M2615.1 2790.2H2621.1M2078.1 2851.1H2084.1M2615.1 2851.1H2621.1M2078.1 2911.3H2084.1M2615.1 2911.3H2621.1M2078.1 2971.5H2084.1M2615.1 2971.5H2621.1M2078.1 3032.4H2084.1M2615.1 3032.4H2621.1M2078.1 3092.6H2084.1M2615.1 3092.6H2621.1M2078.1 3153.6H2084.1M2615.1 3153.6H2621.1M2078.1 3213.7H2084.1M2615.1 3213.7H2621.1M2084.1 3251.1V3257.1M2160.0 3251.1V3257.1M2235.8 3251.1V3257.1M2311.7 3251.1V3257.1M2387.5 3251.1V3257.1M2463.4 3251.1V3257.1M2539.2 3251.1V3257.1M2615.1 3251.1V3257.1" stroke="#000" stroke-width="1.5"/>
<text x="1930.4" y="2797.8" style="font-family:&quot;DejaVu Sans&quot;,sans-serif" font-size="21" fill="#000">Convencional</text>
<text x="2627.1" y="2797.8" style="font-family:&quot;DejaVu Sans&quot;,sans-serif" font-size="21" fill="#000">Novedoso</text>
<text x="1930.4" y="2858.7" style="font-family:&quot;DejaVu Sans&quot;,sans-serif" font-size="21" fill="#000">Convencional</text>
<text x="2627.1" y="2858.7" style="font-family:&quot;DejaVu Sans&quot;,sans-serif" font-size="21" fill="#000">Original</text>
<text x="1917.2" y="2918.9" style="font-family:&quot;DejaVu Sans&quot;,sans-serif" font-size="21" fill="#000">No interesante</text>
<text x="2627.1" y="2918.9" style="font-family:&quot;DejaVu Sans&quot;,sans-serif" font-size="21" fill="#000">Interesante</text>
<text x="1982.2" y="2979.1" style="font-family:&quot;DejaVu Sans&quot;,sans-serif" font-size="21" fill="#000">Aburrido</text>
<text x="2627.1" y="2979.1" style="font-family:&quot;DejaVu Sans&quot;,sans-serif" font-size="21" fill="#000">Emocionante</text>
<text x="1986.8" y="3040.0" style="font-family:&quot;DejaVu Sans&quot;,sans-serif" font-size="21" fill="#000">Confuso</text>
<text x="2627.1" y="3040.0" style="font-family:&quot;DejaVu Sans&quot;,sans-serif" font-size="21" fill="#000">Claro</text>
<text x="1961.7" y="3100.2" style="font-family:&quot;DejaVu Sans&quot;,sans-serif" font-size="21" fill="#000">Ineficiente</text>
<text x="2627.1" y="3100.2" style="font-family:&quot;DejaVu Sans&quot;,sans-serif" font-size="21" fill="#000">Eficiente</text>
<text x="1948.5" y="3161.2" style="font-family:&quot;DejaVu Sans&quot;,sans-serif" font-size="21" fill="#000">Complicado</text>
<text x="2627.1" y="3161.2" style="font-family:&quot;DejaVu Sans&quot;,sans-serif" font-size="21" fill="#000">Fácil</text>
<text x="1950.2" y="3221.3" style="font-family:&quot;DejaVu Sans&quot;,sans-serif" font-size="21" fill="#000">Obstructivo</text>
<text x="2627.1" y="3221.3" style="font-family:&quot;DejaVu Sans&quot;,sans-serif" font-size="21" fill="#000">Impulsor de apoyo</text>
<text x="2077.4" y="3281.5" style="font-family:&quot;DejaVu Sans&quot;,sans-serif" font-size="21" fill="#000">0</text>
<text x="2153.3" y="3281.5" style="font-family:&quot;DejaVu Sans&quot;,sans-serif" font-size="21" fill="#000">1</text>
<text x="2229.1" y="3281.5" style="font-family:&quot;DejaVu Sans&quot;,sans-serif" font-size="21" fill="#000">2</text>
<text x="2305.0" y="3281.5" style="font-family:&quot;DejaVu Sans&quot;,sans-serif" font-size="21" fill="#000">3</text>
<text x="2380.8" y="3281.5" style="font-family:&quot;DejaVu Sans&quot;,sans-serif" font-size="21" fill="#000">4</text>
<text x="2456.7" y="3281.5" style="font-family:&quot;DejaVu Sans&quot;,sans-serif" font-size="21" fill="#000">5</text>
<text x="2532.6" y="3281.5" style="font-family:&quot;DejaVu Sans&quot;,sans-serif" font-size="21" fill="#000">6</text>
<text x="2608.4" y="3281.5" style="font-family:&quot;DejaVu Sans&quot;,sans-serif" font-size="21" fill="#000">7</text>
<text x="1876.9" y="3003.0" style="font-family:&quot;DejaVu Sans&quot;,sans-serif" font-size="24" font-weight="700" fill="#000" transform="rotate(-90 1905.0 3003.0)">UEQ</text>
<rect x="2072.0" y="3440.2" width="402.9" height="29.0" fill="#66c2a5"/>
<path d="M2474.9 3454.7H2491.7" stroke="#000" stroke-width="2.7"/>
<rect x="2072.0" y="3498.8" width="391.5" height="29.0" fill="#66c2a5"/>
<path d="M2463.5 3513.3H2480.2" stroke="#000" stroke-width="2.7"/>
<rect x="2072.0" y="3557.5" width="371.7" height="29.0" fill="#66c2a5"/>
<path d="M2443.7 3572.0H2463.5" stroke="#000" stroke-width="2.7"/>
<rect x="2072.0" y="3615.4" width="368.7" height="29.0" fill="#66c2a5"/>
<path d="M2440.7 3629.9H2462.9" stroke="#000" stroke-width="2.7"/>
<rect x="2072.0" y="3674.0" width="365.6" height="29.0" fill="#66c2a5"/>
<path d="M2437.6 3688.5H2455.1" stroke="#000" stroke-width="2.7"/>
<rect x="2072.0" y="3732.7" width="386.2" height="29.0" fill="#66c2a5"/>
<path d="M2458.2 3747.2H2474.9" stroke="#000" stroke-width="2.7"/>
<rect x="2072.0" y="3790.5" width="344.2" height="29.0" fill="#66c2a5"/>
<path d="M2416.2 3805.0H2436.8" stroke="#000" stroke-width="2.7"/>
<rect x="2072.0" y="3849.2" width="357.9" height="29.0" fill="#66c2a5"/>
<path d="M2429.9 3863.7H2449.6" stroke="#000" stroke-width="2.7"/>
<rect x="2072.0" y="3418.0" width="548.4" height="482.3" fill="none" stroke="#222" stroke-width="1.3"/>
<path d="M2066.0 3454.7H2072.0M2620.4 3454.7H2626.4M2066.0 3513.3H2072.0M2620.4 3513.3H2626.4M2066.0 3572.0H2072.0M2620.4 3572.0H2626.4M2066.0 3629.9H2072.0M2620.4 3629.9H2626.4M2066.0 3688.5H2072.0M2620.4 3688.5H2626.4M2066.0 3747.2H2072.0M2620.4 3747.2H2626.4M2066.0 3805.0H2072.0M2620.4 3805.0H2626.4M2066.0 3863.7H2072.0M2620.4 3863.7H2626.4M2072.0 3900.3V3906.3M2150.3 3900.3V3906.3M2228.7 3900.3V3906.3M2307.0 3900.3V3906.3M2385.4 3900.3V3906.3M2463.7 3900.3V3906.3M2542.1 3900.3V3906.3M2620.4 3900.3V3906.3" stroke="#000" stroke-width="1.5"/>
<text x="1914.2" y="3462.5" style="font-family:&quot;DejaVu Sans&quot;,sans-serif" font-size="21.6" fill="#000">Convencional</text>
<text x="2632.4" y="3462.5" style="font-family:&quot;DejaVu Sans&quot;,sans-serif" font-size="21.6" fill="#000">Novedoso</text>
<text x="1914.2" y="3521.1" style="font-family:&quot;DejaVu Sans&quot;,sans-serif" font-size="21.6" fill="#000">Convencional</text>
<text x="2632.4" y="3521.1" style="font-family:&quot;DejaVu Sans&quot;,sans-serif" font-size="21.6" fill="#000">Original</text>
<text x="1900.7" y="3579.8" style="font-family:&quot;DejaVu Sans&quot;,sans-serif" font-size="21.6" fill="#000">No interesante</text>
<text x="2632.4" y="3579.8" style="font-family:&quot;DejaVu Sans&quot;,sans-serif" font-size="21.6" fill="#000">Interesante</text>
<text x="1967.5" y="3637.7" style="font-family:&quot;DejaVu Sans&quot;,sans-serif" font-size="21.6" fill="#000">Aburrido</text>
<text x="2632.4" y="3637.7" style="font-family:&quot;DejaVu Sans&quot;,sans-serif" font-size="21.6" fill="#000">Emocionante</text>
<text x="1972.2" y="3696.3" style="font-family:&quot;DejaVu Sans&quot;,sans-serif" font-size="21.6" fill="#000">Confuso</text>
<text x="2632.4" y="3696.3" style="font-family:&quot;DejaVu Sans&quot;,sans-serif" font-size="21.6" fill="#000">Claro</text>
<text x="1946.4" y="3755.0" style="font-family:&quot;DejaVu Sans&quot;,sans-serif" font-size="21.6" fill="#000">Ineficiente</text>
<text x="2632.4" y="3755.0" style="font-family:&quot;DejaVu Sans&quot;,sans-serif" font-size="21.6" fill="#000">Eficiente</text>
<text x="1932.9" y="3812.8" style="font-family:&quot;DejaVu Sans&quot;,sans-serif" font-size="21.6" fill="#000">Complicado</text>
<text x="2632.4" y="3812.8" style="font-family:&quot;DejaVu Sans&quot;,sans-serif" font-size="21.6" fill="#000">Fácil</text>
<text x="1934.6" y="3871.5" style="font-family:&quot;DejaVu Sans&quot;,sans-serif" font-size="21.6" fill="#000">Obstructivo</text>
<text x="2632.4" y="3871.5" style="font-family:&quot;DejaVu Sans&quot;,sans-serif" font-size="21.6" fill="#000">Impulsor de apoyo</text>
<text x="2065.1" y="3930.5" style="font-family:&quot;DejaVu Sans&quot;,sans-serif" font-size="21.6" fill="#000">0</text>
<text x="2143.5" y="3930.5" style="font-family:&quot;DejaVu Sans&quot;,sans-serif" font-size="21.6" fill="#000">1</text>
<text x="2221.8" y="3930.5" style="font-family:&quot;DejaVu Sans&quot;,sans-serif" font-size="21.6" fill="#000">2</text>
<text x="2300.2" y="3930.5" style="font-family:&quot;DejaVu Sans&quot;,sans-serif" font-size="21.6" fill="#000">3</text>
<text x="2378.5" y="3930.5" style="font-family:&quot;DejaVu Sans&quot;,sans-serif" font-size="21.6" fill="#000">4</text>
<text x="2456.8" y="3930.5" style="font-family:&quot;DejaVu Sans&quot;,sans-serif" font-size="21.6" fill="#000">5</text>
<text x="2535.2" y="3930.5" style="font-family:&quot;DejaVu Sans&quot;,sans-serif" font-size="21.6" fill="#000">6</text>
<text x="2613.5" y="3930.5" style="font-family:&quot;DejaVu Sans&quot;,sans-serif" font-size="21.6" fill="#000">7</text>
<text x="1859.2" y="3658.0" style="font-family:&quot;DejaVu Sans&quot;,sans-serif" font-size="24.6" font-weight="700" fill="#000" transform="rotate(-90 1888.0 3658.0)">UEQ</text>
</svg>
<svg width="1060" height="560" viewBox="0 3390 1060 560" style="left:0;top:3390px">
<rect x="496.1" y="3501.9" width="387.4" height="21.6" fill="#fc8d62"/>
<rect x="496.1" y="3523.5" width="367.9" height="21.6" fill="#66c2a5"/>
<path d="M883.5 3512.7H894.6M864.0 3534.3H873.7" stroke="#000" stroke-width="1.6"/>
<rect x="496.1" y="3583.4" width="201.4" height="21.6" fill="#fc8d62"/>
<rect x="496.1" y="3605.0" width="181.2" height="21.6" fill="#66c2a5"/>
<path d="M697.5 3594.2H703.7M677.3 3615.8H683.5" stroke="#000" stroke-width="1.6"/>
<rect x="496.1" y="3664.9" width="318.4" height="21.6" fill="#fc8d62"/>
<rect x="496.1" y="3686.5" width="310.2" height="21.6" fill="#66c2a5"/>
<path d="M814.5 3675.7H838.9M806.3 3697.3H830.5" stroke="#000" stroke-width="1.6"/>
<rect x="496.1" y="3747.1" width="243.1" height="21.6" fill="#fc8d62"/>
<rect x="496.1" y="3768.7" width="212.7" height="21.6" fill="#66c2a5"/>
<path d="M739.2 3757.9H755.3M708.8 3779.5H722.5" stroke="#000" stroke-width="1.6"/>
<rect x="496.1" y="3829.4" width="319.8" height="21.6" fill="#fc8d62"/>
<rect x="496.1" y="3851.0" width="307.4" height="21.6" fill="#66c2a5"/>
<path d="M815.9 3840.2H831.2M803.5 3861.8H818.0" stroke="#000" stroke-width="1.6"/>
<rect x="496.1" y="3474.7" width="491.2" height="423.6" fill="none" stroke="#333" stroke-width="1.4"/>
<path d="M490.1 3523.5H496.1M490.1 3605.0H496.1M490.1 3686.5H496.1M490.1 3768.7H496.1M490.1 3851.0H496.1M542.3 3898.3V3903.3M589.2 3898.3V3903.3M636.1 3898.3V3903.3M683.0 3898.3V3903.3M729.9 3898.3V3903.3M776.8 3898.3V3903.3M823.6 3898.3V3903.3M870.5 3898.3V3903.3M917.4 3898.3V3903.3M964.3 3898.3V3903.3" stroke="#222" stroke-width="1.8"/>
<text x="257.8" y="3530.1" style="font-family:&quot;DejaVu Sans&quot;,sans-serif" font-size="18.5" fill="#000" textLength="224.4" lengthAdjust="spacingAndGlyphs">Memoria inmediata</text>
<text x="103.8" y="3611.6" style="font-family:&quot;DejaVu Sans&quot;,sans-serif" font-size="18.5" fill="#000" textLength="378.3" lengthAdjust="spacingAndGlyphs">Memoria de orientación espacial</text>
<text x="162.3" y="3693.1" style="font-family:&quot;DejaVu Sans&quot;,sans-serif" font-size="18.5" fill="#000" textLength="319.8" lengthAdjust="spacingAndGlyphs">Memoria remota semántica</text>
<text x="161.6" y="3775.4" style="font-family:&quot;DejaVu Sans&quot;,sans-serif" font-size="18.5" fill="#000" textLength="320.5" lengthAdjust="spacingAndGlyphs">Memoria de evocación libre</text>
<text x="94.8" y="3857.6" style="font-family:&quot;DejaVu Sans&quot;,sans-serif" font-size="18.5" fill="#000" textLength="387.4" lengthAdjust="spacingAndGlyphs">Memoria de evocación con pistas</text>
<text x="534.8" y="3923.4" style="font-family:&quot;DejaVu Sans&quot;,sans-serif" font-size="18.5" fill="#000" textLength="15.1" lengthAdjust="spacingAndGlyphs">1</text>
<text x="581.7" y="3923.4" style="font-family:&quot;DejaVu Sans&quot;,sans-serif" font-size="18.5" fill="#000" textLength="15.1" lengthAdjust="spacingAndGlyphs">2</text>
<text x="628.5" y="3923.4" style="font-family:&quot;DejaVu Sans&quot;,sans-serif" font-size="18.5" fill="#000" textLength="15.1" lengthAdjust="spacingAndGlyphs">3</text>
<text x="675.4" y="3923.4" style="font-family:&quot;DejaVu Sans&quot;,sans-serif" font-size="18.5" fill="#000" textLength="15.1" lengthAdjust="spacingAndGlyphs">4</text>
<text x="722.3" y="3923.4" style="font-family:&quot;DejaVu Sans&quot;,sans-serif" font-size="18.5" fill="#000" textLength="15.1" lengthAdjust="spacingAndGlyphs">5</text>
<text x="769.2" y="3923.4" style="font-family:&quot;DejaVu Sans&quot;,sans-serif" font-size="18.5" fill="#000" textLength="15.1" lengthAdjust="spacingAndGlyphs">6</text>
<text x="816.1" y="3923.4" style="font-family:&quot;DejaVu Sans&quot;,sans-serif" font-size="18.5" fill="#000" textLength="15.1" lengthAdjust="spacingAndGlyphs">7</text>
<text x="863.0" y="3923.4" style="font-family:&quot;DejaVu Sans&quot;,sans-serif" font-size="18.5" fill="#000" textLength="15.1" lengthAdjust="spacingAndGlyphs">8</text>
<text x="909.9" y="3923.4" style="font-family:&quot;DejaVu Sans&quot;,sans-serif" font-size="18.5" fill="#000" textLength="15.1" lengthAdjust="spacingAndGlyphs">9</text>
<text x="949.3" y="3923.4" style="font-family:&quot;DejaVu Sans&quot;,sans-serif" font-size="18.5" fill="#000" textLength="30.1" lengthAdjust="spacingAndGlyphs">10</text>
<text x="542.1" y="3430.8" style="font-family:&quot;DejaVu Sans&quot;,sans-serif" font-size="21" font-weight="700" fill="#000" textLength="147.7" lengthAdjust="spacingAndGlyphs">Momento</text>
<rect x="705.1" y="3405.0" width="44.6" height="34.8" fill="#66c2a5"/>
<rect x="824.3" y="3405.0" width="44.6" height="34.8" fill="#fc8d62"/>
<text x="765.1" y="3430.8" style="font-family:&quot;DejaVu Sans&quot;,sans-serif" font-size="20" fill="#000" textLength="43.2" lengthAdjust="spacingAndGlyphs">Pre</text>
<text x="883.5" y="3430.8" style="font-family:&quot;DejaVu Sans&quot;,sans-serif" font-size="20" fill="#000" textLength="58.5" lengthAdjust="spacingAndGlyphs">Post</text>
<text x="53.0" y="3687.0" style="font-family:&quot;DejaVu Sans&quot;,sans-serif" font-size="21.5" font-weight="700" fill="#000" transform="rotate(-90 78.5 3687.0)">TAM</text>
</svg>
<svg width="560" height="540" viewBox="1180 3400 560 540" style="left:1180px;top:3400px">
<rect x="1301.8" y="3508.8" width="95.2" height="361.2" fill="#66c2a5"/>
<rect x="1492.8" y="3579.4" width="95.2" height="290.6" fill="#66c2a5"/>
<path d="M1349.7 3447.7V3569.4M1540.1 3510.7V3648.2" stroke="#000" stroke-width="1"/>
<path d="M1235.6 3427.5H1654.2" stroke="#666" stroke-width="2.2"/>
<path d="M1654.2 3427.5V3870.1" stroke="#bbb" stroke-width="1"/>
<path d="M1235.6 3427.5V3870.1H1654.2" stroke="#444" stroke-width="1.2" fill="none"/>
<path d="M1231.6 3870.1H1235.6M1231.6 3742.1H1235.6M1231.6 3614.1H1235.6M1231.6 3486.1H1235.6M1349.7 3870.1V3874.1M1540.1 3870.1V3874.1" stroke="#333" stroke-width="1"/>
<text x="1224.0" y="3874.6" style="font-family:&quot;Liberation Sans&quot;,sans-serif" font-size="12.5" fill="#333" textLength="5.6" lengthAdjust="spacingAndGlyphs">0</text>
<text x="1224.0" y="3746.6" style="font-family:&quot;Liberation Sans&quot;,sans-serif" font-size="12.5" fill="#333" textLength="5.6" lengthAdjust="spacingAndGlyphs">1</text>
<text x="1224.0" y="3618.6" style="font-family:&quot;Liberation Sans&quot;,sans-serif" font-size="12.5" fill="#333" textLength="5.6" lengthAdjust="spacingAndGlyphs">2</text>
<text x="1224.0" y="3490.6" style="font-family:&quot;Liberation Sans&quot;,sans-serif" font-size="12.5" fill="#333" textLength="5.6" lengthAdjust="spacingAndGlyphs">3</text>
<text x="1341.2" y="3891.5" style="font-family:&quot;Liberation Sans&quot;,sans-serif" font-size="14" fill="#222" textLength="17.0" lengthAdjust="spacingAndGlyphs">Pre</text>
<text x="1529.1" y="3891.5" style="font-family:&quot;Liberation Sans&quot;,sans-serif" font-size="14" fill="#222" textLength="21.9" lengthAdjust="spacingAndGlyphs">Post</text>
<text x="1367.0" y="3913.5" style="font-family:&quot;Liberation Sans&quot;,sans-serif" font-size="16.5" font-weight="700" fill="#000" textLength="155.7" lengthAdjust="spacingAndGlyphs">Momento de medición</text>
<text x="1160.9" y="3648.8" style="font-family:&quot;DejaVu Sans&quot;,sans-serif" font-size="12.5" font-weight="700" fill="#000" textLength="110.3" lengthAdjust="spacingAndGlyphs" transform="rotate(-90 1216.0 3648.8)">GDS - Total</text>
<circle cx="1667.4" cy="3554.9" r="2" fill="#000"/>
</svg>
<div class="t" style="left:87.8px;top:4172.1px;font-size:48px;line-height:57.60px;color:#000;width:2780.7px;text-align:left;text-align:justify;text-align-last:justify;"><b>Estimulación cognitiva:</b> El 70% obtuvo del grupo obtuvo una puntuación positiva en aceptación y usabilidad. Se sintieron</div>
<div class="t" style="left:87.8px;top:4229.2px;font-size:48px;line-height:57.60px;color:#000;width:2780.7px;text-align:left;text-align:justify;text-align-last:justify;">seguros con la tecnología, destacaron la sencillez y les gustaría volver a utilizarla. Hubo una diferencia en el T@M de 2 puntos</div>
<div class="t" style="left:87.8px;top:4286.5px;font-size:48px;line-height:57.60px;color:#000;white-space:nowrap;">entre pre-post. Por lo que indica que si se producen cambios cognitivos.</div>
<div class="t" style="left:87.8px;top:4344.2px;font-size:48px;line-height:57.60px;color:#000;width:2780.7px;text-align:left;text-align:justify;text-align-last:justify;"><b>Estimulación multisensorial:</b> El 73% mostró una puntuación positiva. Encontraron tecnología sencilla y quieren repetir la</div>
<div class="t" style="left:87.8px;top:4401.1px;font-size:48px;line-height:57.60px;color:#000;white-space:nowrap;">experiencia. Entre el pre y post se obtuvo una diferente de 1,54 por lo que si hubo una mejora significativa en el estado de ánimo.</div>
<div class="t" style="left:91.9px;top:4581.6px;font-size:41.9px;line-height:50.28px;color:#000;width:2794.2px;text-align:left;text-align:justify;text-align-last:justify;">García-Betances, R. I., Jiménez-Mixco, V., Arredondo, M. T., &amp; Cabrera-Umpiérrez, M. F. (2015). Using virtual reality for cognitive training of the</div>
<div class="t" style="left:91.9px;top:4631.9px;font-size:41.9px;line-height:50.28px;color:#000;white-space:nowrap;">elderly. American Journal of Alzheimer’s Disease &amp; Other Dementias, 30(1), 49–54. 2</div>
<div class="t" style="left:91.9px;top:4682.2px;font-size:41.9px;line-height:50.28px;color:#000;width:2794.2px;text-align:left;text-align:justify;text-align-last:justify;">Gamito P, Oliveira J, Alves C, Santos N, Coelho C, Brito R. Virtual Reality-Based Cognitive Stimulation to Improve Cognitive Functioning in Community</div>
<div class="t" style="left:91.9px;top:4732.5px;font-size:41.9px;line-height:50.28px;color:#000;white-space:nowrap;">Elderly: Controlled Study. Cyberpsychol Behav Soc Netw. 2020 Mar;23(3):150-156. doi: 10.1089/cyber.2019.0271. Epub 2020 Feb 7. PMID: 3203188</div>
</body></html>
